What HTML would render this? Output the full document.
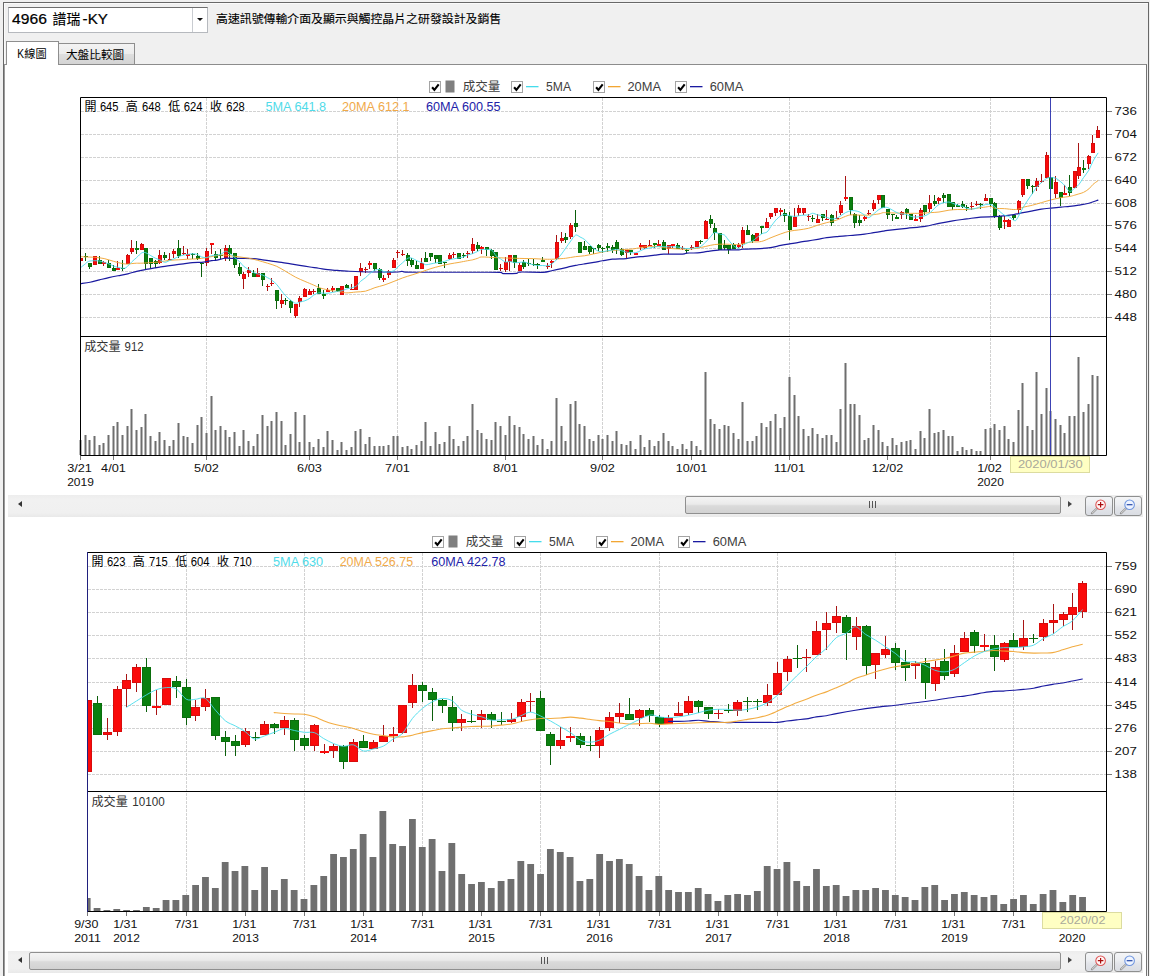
<!DOCTYPE html>
<html><head><meta charset="utf-8"><title>4966 K線圖</title>
<style>
html,body{margin:0;padding:0}
body{width:1150px;height:976px;overflow:hidden;position:relative;background:#f0f0f0;font-family:"Liberation Sans",sans-serif}
div{position:absolute;box-sizing:border-box}
#frame{left:3px;top:2px;width:1146px;height:990px;border:1px solid #686868;border-bottom:none;box-shadow:inset 1px 1px 0 #fafafa}
#combo{left:8px;top:7px;width:200px;height:26px;background:#fff;border:1px solid #b6b9be;border-top-color:#6e6e6e}
#combo b{position:absolute;left:183px;top:0;width:1px;height:24px;background:#c9ccd1}
#combo i{position:absolute;left:188px;top:10px;border:3.4px solid transparent;border-top:3.6px solid #111;border-bottom:none}
#panel{left:4px;top:64px;width:1143px;height:930px;background:#fff;border:1px solid #8c8c8c;border-left-color:#9b9b9b;border-right-color:#747474}
#tab1{left:6px;top:41px;width:53px;height:24px;background:#fff;border:1px solid #8e8e8e;border-bottom:none}
#tab2{left:58px;top:43px;width:77px;height:21px;border:1px solid #8e8e8e;border-bottom:none;background:linear-gradient(#f3f3f3 0%,#ececec 48%,#dedede 52%,#d4d4d4 100%)}
.sb{left:8px;width:1135px;height:22px;background:linear-gradient(#ededed,#f1f1f1 20%,#f0f0f0 80%,#e9e9e9)}
.thumb{top:1px;height:18px;border:1px solid #8f8f8f;border-radius:2px;background:linear-gradient(#f4f4f4 0%,#eaeaea 45%,#dadada 55%,#d2d2d2 100%)}
.thumb i{position:absolute;left:50%;top:4px;margin-left:-4px;width:7px;height:7px;background:linear-gradient(90deg,#555 0 1px,transparent 1px 3px,#555 3px 4px,transparent 4px 6px,#555 6px 7px)}
.arr{width:0;height:0;border-style:solid}
.zb{width:28px;height:20px;border:1px solid #8e8f8f;border-radius:3px;background:linear-gradient(#f4f5f7 0%,#eceef1 40%,#e2e4e9 60%,#dadde3 100%)}
</style></head><body>
<div id="frame"></div>
<div id="combo"><b></b><i></i></div>
<div id="panel"></div>
<div id="tab2"></div>
<div id="tab1"></div>
<div class="sb" style="top:495px"><div class="arr" style="left:10px;top:6px;border-width:3.5px 4.5px 3.5px 0;border-color:transparent #333 transparent transparent"></div><div class="thumb" style="left:677px;width:376px"><i></i></div><div class="arr" style="left:1060px;top:6px;border-width:3.5px 0 3.5px 4.5px;border-color:transparent transparent transparent #444"></div></div><div class="sb" style="top:951px"><div class="arr" style="left:10px;top:6px;border-width:3.5px 4.5px 3.5px 0;border-color:transparent #333 transparent transparent"></div><div class="thumb" style="left:21px;width:1032px"><i></i></div><div class="arr" style="left:1060px;top:6px;border-width:3.5px 0 3.5px 4.5px;border-color:transparent transparent transparent #444"></div></div><div class="zb" style="left:1085px;top:496px"><svg width="28" height="19" viewBox="0 0 28 19" style="position:absolute;left:-1px;top:-1px"><path d="M11.9 12.5L7.0 17.3" stroke="#929292" stroke-width="2.2" stroke-linecap="round"/><path d="M11.7 12.7L7.3 17.0" stroke="#ececec" stroke-width="0.9" stroke-linecap="round"/><circle cx="15.6" cy="8.7" r="4.8" fill="#fff4f4" stroke="#dd5555" stroke-width="1.05"/><path d="M15.6 5.9v5.6M12.8 8.7h5.6" stroke="#a80c0c" stroke-width="1.2" fill="none"/></svg></div><div class="zb" style="left:1114px;top:496px"><svg width="28" height="19" viewBox="0 0 28 19" style="position:absolute;left:-1px;top:-1px"><path d="M11.9 12.5L7.0 17.3" stroke="#929292" stroke-width="2.2" stroke-linecap="round"/><path d="M11.7 12.7L7.3 17.0" stroke="#ececec" stroke-width="0.9" stroke-linecap="round"/><circle cx="15.6" cy="8.7" r="4.8" fill="#eef4ff" stroke="#6f95de" stroke-width="1.05"/><path d="M12.7 8.7h5.8" stroke="#2448a8" stroke-width="1.2" fill="none"/></svg></div><div class="zb" style="left:1085px;top:952px"><svg width="28" height="19" viewBox="0 0 28 19" style="position:absolute;left:-1px;top:-1px"><path d="M11.9 12.5L7.0 17.3" stroke="#929292" stroke-width="2.2" stroke-linecap="round"/><path d="M11.7 12.7L7.3 17.0" stroke="#ececec" stroke-width="0.9" stroke-linecap="round"/><circle cx="15.6" cy="8.7" r="4.8" fill="#fff4f4" stroke="#dd5555" stroke-width="1.05"/><path d="M15.6 5.9v5.6M12.8 8.7h5.6" stroke="#a80c0c" stroke-width="1.2" fill="none"/></svg></div><div class="zb" style="left:1114px;top:952px"><svg width="28" height="19" viewBox="0 0 28 19" style="position:absolute;left:-1px;top:-1px"><path d="M11.9 12.5L7.0 17.3" stroke="#929292" stroke-width="2.2" stroke-linecap="round"/><path d="M11.7 12.7L7.3 17.0" stroke="#ececec" stroke-width="0.9" stroke-linecap="round"/><circle cx="15.6" cy="8.7" r="4.8" fill="#eef4ff" stroke="#6f95de" stroke-width="1.05"/><path d="M12.7 8.7h5.8" stroke="#2448a8" stroke-width="1.2" fill="none"/></svg></div>
<svg width="1150" height="976" viewBox="0 0 1150 976" style="position:absolute;left:0;top:0" font-family='"Liberation Sans", "Noto Sans CJK TC", sans-serif'>
<rect x="80" y="97" width="1026" height="358" fill="#fff"/>
<path stroke="#d2d2d2" stroke-width="1" stroke-dasharray="3 1" fill="none" d="M81 111.5H1106M81 134.5H1106M81 157.5H1106M81 180.5H1106M81 203.5H1106M81 225.5H1106M81 248.5H1106M81 271.5H1106M81 294.5H1106M81 317.5H1106"/>
<path stroke="#d2d2d2" stroke-width="1" stroke-dasharray="3 1" fill="none" d="M206.5 98V455M397.5 98V455M602.5 98V455M789.5 98V455M990.5 98V455"/>
<path fill="#6e6e6e" d="M79.5 440h2V455h-2zM84.5 435h2V455h-2zM88.5 440h2V455h-2zM93.5 436h2V455h-2zM98.5 445h2V455h-2zM102.5 443h2V455h-2zM107.5 435h2V455h-2zM112.5 426h2V455h-2zM116.5 422h2V455h-2zM121.5 435h2V455h-2zM126.5 426h2V455h-2zM130.5 409h2V455h-2zM135.5 430h2V455h-2zM140.5 427h2V455h-2zM144.5 414h2V455h-2zM149.5 436h2V455h-2zM154.5 441h2V455h-2zM158.5 432h2V455h-2zM163.5 440h2V455h-2zM168.5 446h2V455h-2zM172.5 440h2V455h-2zM177.5 423h2V455h-2zM182.5 436h2V455h-2zM186.5 437h2V455h-2zM191.5 443h2V455h-2zM196.5 425h2V455h-2zM200.5 417h2V455h-2zM205.5 433h2V455h-2zM210.5 396h2V455h-2zM214.5 430h2V455h-2zM219.5 426h2V455h-2zM224.5 430h2V455h-2zM228.5 437h2V455h-2zM233.5 432h2V455h-2zM238.5 446h2V455h-2zM242.5 430h2V455h-2zM247.5 441h2V455h-2zM252.5 446h2V455h-2zM256.5 434h2V455h-2zM261.5 415h2V455h-2zM266.5 426h2V455h-2zM270.5 421h2V455h-2zM275.5 412h2V455h-2zM280.5 421h2V455h-2zM284.5 445h2V455h-2zM289.5 434h2V455h-2zM294.5 412h2V455h-2zM298.5 442h2V455h-2zM303.5 415h2V455h-2zM308.5 442h2V455h-2zM312.5 447h2V455h-2zM317.5 439h2V455h-2zM322.5 447h2V455h-2zM326.5 431h2V455h-2zM331.5 440h2V455h-2zM336.5 450h2V455h-2zM340.5 442h2V455h-2zM345.5 450h2V455h-2zM350.5 447h2V455h-2zM354.5 431h2V455h-2zM359.5 429h2V455h-2zM364.5 444h2V455h-2zM368.5 437h2V455h-2zM373.5 446h2V455h-2zM378.5 446h2V455h-2zM382.5 446h2V455h-2zM387.5 445h2V455h-2zM392.5 436h2V455h-2zM396.5 436h2V455h-2zM401.5 447h2V455h-2zM406.5 446h2V455h-2zM410.5 449h2V455h-2zM415.5 445h2V455h-2zM420.5 441h2V455h-2zM424.5 422h2V455h-2zM429.5 446h2V455h-2zM434.5 432h2V455h-2zM438.5 444h2V455h-2zM443.5 442h2V455h-2zM448.5 426h2V455h-2zM452.5 439h2V455h-2zM457.5 446h2V455h-2zM462.5 441h2V455h-2zM466.5 436h2V455h-2zM471.5 404h2V455h-2zM476.5 430h2V455h-2zM480.5 433h2V455h-2zM485.5 439h2V455h-2zM490.5 440h2V455h-2zM494.5 422h2V455h-2zM499.5 426h2V455h-2zM504.5 435h2V455h-2zM508.5 416h2V455h-2zM513.5 425h2V455h-2zM518.5 427h2V455h-2zM522.5 434h2V455h-2zM527.5 439h2V455h-2zM532.5 436h2V455h-2zM536.5 445h2V455h-2zM541.5 439h2V455h-2zM546.5 449h2V455h-2zM550.5 441h2V455h-2zM555.5 398h2V455h-2zM560.5 426h2V455h-2zM564.5 441h2V455h-2zM569.5 404h2V455h-2zM574.5 401h2V455h-2zM578.5 424h2V455h-2zM583.5 426h2V455h-2zM588.5 439h2V455h-2zM592.5 441h2V455h-2zM597.5 435h2V455h-2zM601.5 439h2V455h-2zM606.5 435h2V455h-2zM611.5 441h2V455h-2zM615.5 431h2V455h-2zM620.5 444h2V455h-2zM625.5 445h2V455h-2zM629.5 441h2V455h-2zM634.5 449h2V455h-2zM639.5 435h2V455h-2zM643.5 447h2V455h-2zM648.5 440h2V455h-2zM653.5 446h2V455h-2zM657.5 441h2V455h-2zM662.5 433h2V455h-2zM667.5 441h2V455h-2zM671.5 446h2V455h-2zM676.5 449h2V455h-2zM681.5 444h2V455h-2zM685.5 449h2V455h-2zM690.5 441h2V455h-2zM695.5 446h2V455h-2zM699.5 450h2V455h-2zM704.5 372h2V455h-2zM709.5 419h2V455h-2zM713.5 424h2V455h-2zM718.5 429h2V455h-2zM723.5 425h2V455h-2zM727.5 426h2V455h-2zM732.5 433h2V455h-2zM737.5 439h2V455h-2zM741.5 402h2V455h-2zM746.5 441h2V455h-2zM751.5 441h2V455h-2zM755.5 436h2V455h-2zM760.5 423h2V455h-2zM765.5 427h2V455h-2zM769.5 421h2V455h-2zM774.5 414h2V455h-2zM779.5 428h2V455h-2zM783.5 417h2V455h-2zM788.5 377h2V455h-2zM793.5 395h2V455h-2zM797.5 416h2V455h-2zM802.5 429h2V455h-2zM807.5 436h2V455h-2zM811.5 428h2V455h-2zM816.5 434h2V455h-2zM821.5 438h2V455h-2zM825.5 435h2V455h-2zM830.5 435h2V455h-2zM835.5 442h2V455h-2zM839.5 409h2V455h-2zM844.5 363h2V455h-2zM849.5 404h2V455h-2zM853.5 404h2V455h-2zM858.5 415h2V455h-2zM863.5 440h2V455h-2zM867.5 438h2V455h-2zM872.5 425h2V455h-2zM877.5 430h2V455h-2zM881.5 442h2V455h-2zM886.5 446h2V455h-2zM891.5 438h2V455h-2zM895.5 445h2V455h-2zM900.5 442h2V455h-2zM905.5 441h2V455h-2zM909.5 440h2V455h-2zM914.5 449h2V455h-2zM919.5 431h2V455h-2zM923.5 438h2V455h-2zM928.5 409h2V455h-2zM933.5 433h2V455h-2zM937.5 432h2V455h-2zM942.5 430h2V455h-2zM947.5 436h2V455h-2zM951.5 436h2V455h-2zM956.5 451h2V455h-2zM961.5 447h2V455h-2zM965.5 450h2V455h-2zM970.5 449h2V455h-2zM975.5 451h2V455h-2zM979.5 451h2V455h-2zM984.5 429h2V455h-2zM989.5 428h2V455h-2zM993.5 424h2V455h-2zM998.5 430h2V455h-2zM1003.5 426h2V455h-2zM1007.5 439h2V455h-2zM1012.5 442h2V455h-2zM1017.5 410h2V455h-2zM1021.5 383h2V455h-2zM1026.5 426h2V455h-2zM1031.5 430h2V455h-2zM1035.5 372h2V455h-2zM1040.5 414h2V455h-2zM1045.5 388h2V455h-2zM1049.5 411h2V455h-2zM1054.5 419h2V455h-2zM1059.5 425h2V455h-2zM1063.5 433h2V455h-2zM1068.5 416h2V455h-2zM1073.5 416h2V455h-2zM1077.5 357h2V455h-2zM1082.5 412h2V455h-2zM1087.5 404h2V455h-2zM1091.5 375h2V455h-2zM1096.5 376h2V455h-2z"/>
<clipPath id="c1"><rect x="80" y="97" width="1026" height="358"/></clipPath>
<g clip-path="url(#c1)">
<path fill="#a81414" d="M80 256h1V266h-1z"/><rect x="79.5" y="258.5" width="3" height="2" fill="#fa0a0a" stroke="#d80c0c" stroke-width="1"/>
<path fill="#0b5f0b" d="M85 253h1V261h-1z"/><rect x="84" y="256" width="4" height="1" fill="#0a6e0c"/>
<path fill="#0b5f0b" d="M89 263h1V269h-1z"/><rect x="88.5" y="263.5" width="3" height="3" fill="#0a800f" stroke="#0a6e0c" stroke-width="1"/>
<path fill="#a81414" d="M94 256h1V265h-1z"/><rect x="93.5" y="256.5" width="3" height="8" fill="#fa0a0a" stroke="#d80c0c" stroke-width="1"/>
<path fill="#0b5f0b" d="M99 256h1V264h-1z"/><rect x="98.5" y="260.5" width="3" height="3" fill="#0a800f" stroke="#0a6e0c" stroke-width="1"/>
<path fill="#a81414" d="M103 261h1V266h-1z"/><rect x="102" y="262" width="4" height="2" fill="#fa0a0a"/>
<path fill="#0b5f0b" d="M108 260h1V268h-1z"/><rect x="107.5" y="263.5" width="3" height="4" fill="#0a800f" stroke="#0a6e0c" stroke-width="1"/>
<path fill="#0b5f0b" d="M113 265h1V271h-1z"/><rect x="112.5" y="268.5" width="3" height="2" fill="#0a800f" stroke="#0a6e0c" stroke-width="1"/>
<path fill="#a81414" d="M117 261h1V270h-1z"/><rect x="116" y="268" width="4" height="2" fill="#fa0a0a"/>
<path fill="#0b5f0b" d="M122 260h1V271h-1z"/><rect x="121" y="268" width="4" height="1" fill="#0a6e0c"/>
<path fill="#a81414" d="M127 254h1V264h-1z"/><rect x="126.5" y="255.5" width="3" height="8" fill="#fa0a0a" stroke="#d80c0c" stroke-width="1"/>
<path fill="#a81414" d="M131 240h1V254h-1z"/><rect x="130.5" y="248.5" width="3" height="3" fill="#fa0a0a" stroke="#d80c0c" stroke-width="1"/>
<path fill="#0b5f0b" d="M136 241h1V254h-1z"/><rect x="135" y="248" width="4" height="2" fill="#0a800f"/>
<path fill="#a81414" d="M141 243h1V250h-1z"/><rect x="140.5" y="244.5" width="3" height="5" fill="#fa0a0a" stroke="#d80c0c" stroke-width="1"/>
<path fill="#0b5f0b" d="M145 248h1V269h-1z"/><rect x="144.5" y="248.5" width="3" height="15" fill="#0a800f" stroke="#0a6e0c" stroke-width="1"/>
<path fill="#0b5f0b" d="M150 258h1V268h-1z"/><rect x="149.5" y="258.5" width="3" height="5" fill="#0a800f" stroke="#0a6e0c" stroke-width="1"/>
<path fill="#0b5f0b" d="M155 260h1V268h-1z"/><rect x="154.5" y="261.5" width="3" height="2" fill="#0a800f" stroke="#0a6e0c" stroke-width="1"/>
<path fill="#a81414" d="M159 250h1V264h-1z"/><rect x="158.5" y="255.5" width="3" height="7" fill="#fa0a0a" stroke="#d80c0c" stroke-width="1"/>
<path fill="#0b5f0b" d="M164 252h1V260h-1z"/><rect x="163.5" y="255.5" width="3" height="2" fill="#0a800f" stroke="#0a6e0c" stroke-width="1"/>
<path fill="#a81414" d="M169 253h1V260h-1z"/><rect x="168" y="259" width="4" height="1" fill="#d80c0c"/>
<path fill="#a81414" d="M173 249h1V258h-1z"/><rect x="172.5" y="251.5" width="3" height="2" fill="#fa0a0a" stroke="#d80c0c" stroke-width="1"/>
<path fill="#0b5f0b" d="M178 240h1V258h-1z"/><rect x="177.5" y="248.5" width="3" height="7" fill="#0a800f" stroke="#0a6e0c" stroke-width="1"/>
<path fill="#a81414" d="M183 246h1V255h-1z"/><rect x="182" y="253" width="4" height="1" fill="#d80c0c"/>
<path fill="#a81414" d="M187 249h1V259h-1z"/><rect x="186" y="254" width="4" height="2" fill="#fa0a0a"/>
<path fill="#0b5f0b" d="M192 253h1V259h-1z"/><rect x="191" y="254" width="4" height="1" fill="#0a6e0c"/>
<path fill="#0b5f0b" d="M197 253h1V260h-1z"/><rect x="196.5" y="256.5" width="3" height="2" fill="#0a800f" stroke="#0a6e0c" stroke-width="1"/>
<path fill="#0b5f0b" d="M201 263h1V277h-1z"/><rect x="200" y="263" width="4" height="1" fill="#0a6e0c"/>
<path fill="#a81414" d="M206 248h1V266h-1z"/><rect x="205.5" y="251.5" width="3" height="11" fill="#fa0a0a" stroke="#d80c0c" stroke-width="1"/>
<path fill="#a81414" d="M211 243h1V254h-1z"/><rect x="210" y="243" width="4" height="2" fill="#fa0a0a"/>
<path fill="#0b5f0b" d="M215 251h1V260h-1z"/><rect x="214.5" y="254.5" width="3" height="3" fill="#0a800f" stroke="#0a6e0c" stroke-width="1"/>
<path fill="#0b5f0b" d="M220 249h1V259h-1z"/><rect x="219" y="255" width="4" height="1" fill="#0a6e0c"/>
<path fill="#a81414" d="M225 245h1V261h-1z"/><rect x="224.5" y="248.5" width="3" height="9" fill="#fa0a0a" stroke="#d80c0c" stroke-width="1"/>
<path fill="#0b5f0b" d="M229 245h1V261h-1z"/><rect x="228.5" y="248.5" width="3" height="5" fill="#0a800f" stroke="#0a6e0c" stroke-width="1"/>
<path fill="#0b5f0b" d="M234 253h1V268h-1z"/><rect x="233.5" y="253.5" width="3" height="11" fill="#0a800f" stroke="#0a6e0c" stroke-width="1"/>
<path fill="#0b5f0b" d="M239 263h1V276h-1z"/><rect x="238.5" y="267.5" width="3" height="6" fill="#0a800f" stroke="#0a6e0c" stroke-width="1"/>
<path fill="#a81414" d="M243 272h1V289h-1z"/><rect x="242.5" y="274.5" width="3" height="4" fill="#fa0a0a" stroke="#d80c0c" stroke-width="1"/>
<path fill="#a81414" d="M248 267h1V277h-1z"/><rect x="247.5" y="270.5" width="3" height="2" fill="#fa0a0a" stroke="#d80c0c" stroke-width="1"/>
<path fill="#0b5f0b" d="M253 270h1V277h-1z"/><rect x="252.5" y="273.5" width="3" height="3" fill="#0a800f" stroke="#0a6e0c" stroke-width="1"/>
<path fill="#a81414" d="M257 268h1V277h-1z"/><rect x="256.5" y="273.5" width="3" height="3" fill="#fa0a0a" stroke="#d80c0c" stroke-width="1"/>
<path fill="#0b5f0b" d="M262 273h1V286h-1z"/><rect x="261.5" y="273.5" width="3" height="6" fill="#0a800f" stroke="#0a6e0c" stroke-width="1"/>
<path fill="#a81414" d="M267 284h1V291h-1z"/><rect x="266" y="286" width="4" height="1" fill="#d80c0c"/>
<path fill="#a81414" d="M271 278h1V286h-1z"/><rect x="270" y="283" width="4" height="1" fill="#d80c0c"/>
<path fill="#0b5f0b" d="M276 290h1V309h-1z"/><rect x="275.5" y="290.5" width="3" height="10" fill="#0a800f" stroke="#0a6e0c" stroke-width="1"/>
<path fill="#a81414" d="M281 294h1V308h-1z"/><rect x="280.5" y="300.5" width="3" height="3" fill="#fa0a0a" stroke="#d80c0c" stroke-width="1"/>
<path fill="#0b5f0b" d="M285 298h1V305h-1z"/><rect x="284" y="300" width="4" height="1" fill="#0a6e0c"/>
<path fill="#0b5f0b" d="M290 300h1V313h-1z"/><rect x="289.5" y="301.5" width="3" height="6" fill="#0a800f" stroke="#0a6e0c" stroke-width="1"/>
<path fill="#a81414" d="M295 304h1V318h-1z"/><rect x="294.5" y="304.5" width="3" height="11" fill="#fa0a0a" stroke="#d80c0c" stroke-width="1"/>
<path fill="#a81414" d="M299 296h1V307h-1z"/><rect x="298.5" y="298.5" width="3" height="3" fill="#fa0a0a" stroke="#d80c0c" stroke-width="1"/>
<path fill="#a81414" d="M304 288h1V297h-1z"/><rect x="303.5" y="289.5" width="3" height="7" fill="#fa0a0a" stroke="#d80c0c" stroke-width="1"/>
<path fill="#a81414" d="M309 289h1V295h-1z"/><rect x="308.5" y="291.5" width="3" height="3" fill="#fa0a0a" stroke="#d80c0c" stroke-width="1"/>
<path fill="#a81414" d="M313 289h1V294h-1z"/><rect x="312" y="291" width="4" height="1" fill="#d80c0c"/>
<path fill="#0b5f0b" d="M318 284h1V294h-1z"/><rect x="317.5" y="288.5" width="3" height="5" fill="#0a800f" stroke="#0a6e0c" stroke-width="1"/>
<path fill="#0b5f0b" d="M323 290h1V299h-1z"/><rect x="322" y="294" width="4" height="2" fill="#0a800f"/>
<path fill="#a81414" d="M327 288h1V292h-1z"/><rect x="326" y="290" width="4" height="2" fill="#fa0a0a"/>
<path fill="#a81414" d="M332 286h1V292h-1z"/><rect x="331" y="288" width="4" height="2" fill="#fa0a0a"/>
<path fill="#0b5f0b" d="M337 288h1V292h-1z"/><rect x="336.5" y="288.5" width="3" height="2" fill="#0a800f" stroke="#0a6e0c" stroke-width="1"/>
<path fill="#a81414" d="M341 286h1V295h-1z"/><rect x="340.5" y="286.5" width="3" height="8" fill="#fa0a0a" stroke="#d80c0c" stroke-width="1"/>
<path fill="#0b5f0b" d="M346 284h1V288h-1z"/><rect x="345.5" y="285.5" width="3" height="2" fill="#0a800f" stroke="#0a6e0c" stroke-width="1"/>
<path fill="#a81414" d="M351 284h1V290h-1z"/><rect x="350" y="289" width="4" height="1" fill="#d80c0c"/>
<path fill="#a81414" d="M355 276h1V290h-1z"/><rect x="354.5" y="276.5" width="3" height="13" fill="#fa0a0a" stroke="#d80c0c" stroke-width="1"/>
<path fill="#a81414" d="M360 263h1V276h-1z"/><rect x="359.5" y="268.5" width="3" height="3" fill="#fa0a0a" stroke="#d80c0c" stroke-width="1"/>
<path fill="#a81414" d="M365 267h1V273h-1z"/><rect x="364" y="269" width="4" height="1" fill="#d80c0c"/>
<path fill="#a81414" d="M369 261h1V269h-1z"/><rect x="368" y="263" width="4" height="2" fill="#fa0a0a"/>
<path fill="#0b5f0b" d="M374 263h1V271h-1z"/><rect x="373.5" y="263.5" width="3" height="5" fill="#0a800f" stroke="#0a6e0c" stroke-width="1"/>
<path fill="#0b5f0b" d="M379 268h1V280h-1z"/><rect x="378.5" y="269.5" width="3" height="8" fill="#0a800f" stroke="#0a6e0c" stroke-width="1"/>
<path fill="#a81414" d="M383 275h1V282h-1z"/><rect x="382" y="278" width="4" height="2" fill="#fa0a0a"/>
<path fill="#a81414" d="M388 270h1V278h-1z"/><rect x="387.5" y="271.5" width="3" height="3" fill="#fa0a0a" stroke="#d80c0c" stroke-width="1"/>
<path fill="#a81414" d="M393 258h1V268h-1z"/><rect x="392.5" y="260.5" width="3" height="7" fill="#fa0a0a" stroke="#d80c0c" stroke-width="1"/>
<path fill="#a81414" d="M397 250h1V258h-1z"/><rect x="396" y="252" width="4" height="1" fill="#d80c0c"/>
<path fill="#a81414" d="M402 250h1V256h-1z"/><rect x="401" y="254" width="4" height="1" fill="#d80c0c"/>
<path fill="#0b5f0b" d="M407 253h1V266h-1z"/><rect x="406.5" y="255.5" width="3" height="5" fill="#0a800f" stroke="#0a6e0c" stroke-width="1"/>
<path fill="#0b5f0b" d="M411 258h1V267h-1z"/><rect x="410.5" y="260.5" width="3" height="4" fill="#0a800f" stroke="#0a6e0c" stroke-width="1"/>
<path fill="#0b5f0b" d="M416 261h1V269h-1z"/><rect x="415.5" y="265.5" width="3" height="3" fill="#0a800f" stroke="#0a6e0c" stroke-width="1"/>
<path fill="#a81414" d="M421 258h1V269h-1z"/><rect x="420.5" y="263.5" width="3" height="5" fill="#fa0a0a" stroke="#d80c0c" stroke-width="1"/>
<path fill="#0b5f0b" d="M425 252h1V262h-1z"/><rect x="424.5" y="258.5" width="3" height="3" fill="#0a800f" stroke="#0a6e0c" stroke-width="1"/>
<path fill="#0b5f0b" d="M430 253h1V261h-1z"/><rect x="429.5" y="253.5" width="3" height="3" fill="#0a800f" stroke="#0a6e0c" stroke-width="1"/>
<path fill="#0b5f0b" d="M435 255h1V263h-1z"/><rect x="434.5" y="255.5" width="3" height="3" fill="#0a800f" stroke="#0a6e0c" stroke-width="1"/>
<path fill="#0b5f0b" d="M439 255h1V264h-1z"/><rect x="438.5" y="255.5" width="3" height="8" fill="#0a800f" stroke="#0a6e0c" stroke-width="1"/>
<path fill="#0b5f0b" d="M444 262h1V268h-1z"/><rect x="443" y="262" width="4" height="1" fill="#0a6e0c"/>
<path fill="#a81414" d="M449 253h1V260h-1z"/><rect x="448.5" y="255.5" width="3" height="3" fill="#fa0a0a" stroke="#d80c0c" stroke-width="1"/>
<path fill="#a81414" d="M453 252h1V258h-1z"/><rect x="452" y="254" width="4" height="1" fill="#d80c0c"/>
<path fill="#0b5f0b" d="M458 253h1V259h-1z"/><rect x="457.5" y="253.5" width="3" height="5" fill="#0a800f" stroke="#0a6e0c" stroke-width="1"/>
<path fill="#0b5f0b" d="M463 253h1V258h-1z"/><rect x="462" y="255" width="4" height="1" fill="#0a6e0c"/>
<path fill="#a81414" d="M467 251h1V258h-1z"/><rect x="466" y="253" width="4" height="1" fill="#d80c0c"/>
<path fill="#a81414" d="M472 238h1V254h-1z"/><rect x="471.5" y="244.5" width="3" height="6" fill="#fa0a0a" stroke="#d80c0c" stroke-width="1"/>
<path fill="#0b5f0b" d="M477 242h1V251h-1z"/><rect x="476.5" y="245.5" width="3" height="3" fill="#0a800f" stroke="#0a6e0c" stroke-width="1"/>
<path fill="#a81414" d="M481 246h1V254h-1z"/><rect x="480" y="247" width="4" height="2" fill="#fa0a0a"/>
<path fill="#0b5f0b" d="M486 247h1V256h-1z"/><rect x="485.5" y="247.5" width="3" height="2" fill="#0a800f" stroke="#0a6e0c" stroke-width="1"/>
<path fill="#0b5f0b" d="M491 249h1V259h-1z"/><rect x="490.5" y="250.5" width="3" height="5" fill="#0a800f" stroke="#0a6e0c" stroke-width="1"/>
<path fill="#0b5f0b" d="M495 252h1V270h-1z"/><rect x="494.5" y="252.5" width="3" height="17" fill="#0a800f" stroke="#0a6e0c" stroke-width="1"/>
<path fill="#a81414" d="M500 264h1V271h-1z"/><rect x="499" y="268" width="4" height="1" fill="#d80c0c"/>
<path fill="#a81414" d="M505 257h1V272h-1z"/><rect x="504.5" y="262.5" width="3" height="7" fill="#fa0a0a" stroke="#d80c0c" stroke-width="1"/>
<path fill="#a81414" d="M509 255h1V271h-1z"/><rect x="508.5" y="255.5" width="3" height="6" fill="#fa0a0a" stroke="#d80c0c" stroke-width="1"/>
<path fill="#0b5f0b" d="M514 255h1V268h-1z"/><rect x="513.5" y="255.5" width="3" height="7" fill="#0a800f" stroke="#0a6e0c" stroke-width="1"/>
<path fill="#a81414" d="M519 263h1V271h-1z"/><rect x="518.5" y="265.5" width="3" height="5" fill="#fa0a0a" stroke="#d80c0c" stroke-width="1"/>
<path fill="#0b5f0b" d="M523 260h1V269h-1z"/><rect x="522.5" y="262.5" width="3" height="4" fill="#0a800f" stroke="#0a6e0c" stroke-width="1"/>
<path fill="#0b5f0b" d="M528 259h1V266h-1z"/><rect x="527" y="263" width="4" height="1" fill="#0a6e0c"/>
<path fill="#0b5f0b" d="M533 259h1V266h-1z"/><rect x="532" y="264" width="4" height="1" fill="#0a6e0c"/>
<path fill="#0b5f0b" d="M537 263h1V269h-1z"/><rect x="536" y="264" width="4" height="1" fill="#0a6e0c"/>
<path fill="#0b5f0b" d="M542 257h1V262h-1z"/><rect x="541" y="260" width="4" height="2" fill="#0a800f"/>
<path fill="#a81414" d="M547 263h1V269h-1z"/><rect x="546" y="266" width="4" height="1" fill="#d80c0c"/>
<path fill="#a81414" d="M551 260h1V268h-1z"/><rect x="550" y="261" width="4" height="2" fill="#fa0a0a"/>
<path fill="#a81414" d="M556 235h1V260h-1z"/><rect x="555.5" y="242.5" width="3" height="16" fill="#fa0a0a" stroke="#d80c0c" stroke-width="1"/>
<path fill="#a81414" d="M561 232h1V243h-1z"/><rect x="560.5" y="238.5" width="3" height="2" fill="#fa0a0a" stroke="#d80c0c" stroke-width="1"/>
<path fill="#0b5f0b" d="M565 233h1V243h-1z"/><rect x="564.5" y="237.5" width="3" height="2" fill="#0a800f" stroke="#0a6e0c" stroke-width="1"/>
<path fill="#a81414" d="M570 223h1V239h-1z"/><rect x="569.5" y="225.5" width="3" height="11" fill="#fa0a0a" stroke="#d80c0c" stroke-width="1"/>
<path fill="#0b5f0b" d="M575 210h1V232h-1z"/><rect x="574.5" y="223.5" width="3" height="3" fill="#0a800f" stroke="#0a6e0c" stroke-width="1"/>
<path fill="#0b5f0b" d="M579 242h1V253h-1z"/><rect x="578.5" y="242.5" width="3" height="10" fill="#0a800f" stroke="#0a6e0c" stroke-width="1"/>
<path fill="#0b5f0b" d="M584 241h1V250h-1z"/><rect x="583.5" y="246.5" width="3" height="3" fill="#0a800f" stroke="#0a6e0c" stroke-width="1"/>
<path fill="#0b5f0b" d="M589 246h1V254h-1z"/><rect x="588.5" y="246.5" width="3" height="5" fill="#0a800f" stroke="#0a6e0c" stroke-width="1"/>
<path fill="#0b5f0b" d="M593 248h1V254h-1z"/><rect x="592" y="248" width="4" height="1" fill="#0a6e0c"/>
<path fill="#0b5f0b" d="M598 244h1V251h-1z"/><rect x="597.5" y="245.5" width="3" height="2" fill="#0a800f" stroke="#0a6e0c" stroke-width="1"/>
<path fill="#0b5f0b" d="M602 247h1V253h-1z"/><rect x="601" y="248" width="4" height="1" fill="#0a6e0c"/>
<path fill="#0b5f0b" d="M607 243h1V252h-1z"/><rect x="606" y="246" width="4" height="2" fill="#0a800f"/>
<path fill="#0b5f0b" d="M612 245h1V253h-1z"/><rect x="611.5" y="247.5" width="3" height="2" fill="#0a800f" stroke="#0a6e0c" stroke-width="1"/>
<path fill="#0b5f0b" d="M616 240h1V254h-1z"/><rect x="615.5" y="242.5" width="3" height="6" fill="#0a800f" stroke="#0a6e0c" stroke-width="1"/>
<path fill="#0b5f0b" d="M621 248h1V256h-1z"/><rect x="620.5" y="249.5" width="3" height="5" fill="#0a800f" stroke="#0a6e0c" stroke-width="1"/>
<path fill="#a81414" d="M626 250h1V258h-1z"/><rect x="625.5" y="250.5" width="3" height="2" fill="#fa0a0a" stroke="#d80c0c" stroke-width="1"/>
<path fill="#0b5f0b" d="M630 250h1V255h-1z"/><rect x="629" y="250" width="4" height="2" fill="#0a800f"/>
<path fill="#a81414" d="M635 253h1V255h-1z"/><rect x="634" y="253" width="4" height="2" fill="#fa0a0a"/>
<path fill="#a81414" d="M640 243h1V250h-1z"/><rect x="639" y="245" width="4" height="2" fill="#fa0a0a"/>
<path fill="#a81414" d="M644 245h1V249h-1z"/><rect x="643.5" y="245.5" width="3" height="2" fill="#fa0a0a" stroke="#d80c0c" stroke-width="1"/>
<path fill="#a81414" d="M649 240h1V246h-1z"/><rect x="648" y="245" width="4" height="1" fill="#d80c0c"/>
<path fill="#0b5f0b" d="M654 243h1V248h-1z"/><rect x="653" y="243" width="4" height="2" fill="#0a800f"/>
<path fill="#a81414" d="M658 240h1V246h-1z"/><rect x="657" y="244" width="4" height="2" fill="#fa0a0a"/>
<path fill="#0b5f0b" d="M663 240h1V250h-1z"/><rect x="662.5" y="242.5" width="3" height="7" fill="#0a800f" stroke="#0a6e0c" stroke-width="1"/>
<path fill="#a81414" d="M668 245h1V254h-1z"/><rect x="667.5" y="245.5" width="3" height="3" fill="#fa0a0a" stroke="#d80c0c" stroke-width="1"/>
<path fill="#a81414" d="M672 244h1V248h-1z"/><rect x="671" y="244" width="4" height="2" fill="#fa0a0a"/>
<path fill="#0b5f0b" d="M677 243h1V249h-1z"/><rect x="676.5" y="245.5" width="3" height="3" fill="#0a800f" stroke="#0a6e0c" stroke-width="1"/>
<path fill="#a81414" d="M682 246h1V250h-1z"/><rect x="681" y="248" width="4" height="1" fill="#d80c0c"/>
<path fill="#0b5f0b" d="M686 249h1V253h-1z"/><rect x="685" y="250" width="4" height="1" fill="#0a6e0c"/>
<path fill="#a81414" d="M691 245h1V250h-1z"/><rect x="690" y="247" width="4" height="1" fill="#d80c0c"/>
<path fill="#a81414" d="M696 241h1V247h-1z"/><rect x="695.5" y="241.5" width="3" height="5" fill="#fa0a0a" stroke="#d80c0c" stroke-width="1"/>
<path fill="#0b5f0b" d="M700 240h1V244h-1z"/><rect x="699" y="241" width="4" height="1" fill="#0a6e0c"/>
<path fill="#a81414" d="M705 220h1V239h-1z"/><rect x="704.5" y="221.5" width="3" height="17" fill="#fa0a0a" stroke="#d80c0c" stroke-width="1"/>
<path fill="#0b5f0b" d="M710 215h1V228h-1z"/><rect x="709.5" y="219.5" width="3" height="4" fill="#0a800f" stroke="#0a6e0c" stroke-width="1"/>
<path fill="#0b5f0b" d="M714 223h1V240h-1z"/><rect x="713.5" y="228.5" width="3" height="4" fill="#0a800f" stroke="#0a6e0c" stroke-width="1"/>
<path fill="#0b5f0b" d="M719 233h1V250h-1z"/><rect x="718.5" y="233.5" width="3" height="16" fill="#0a800f" stroke="#0a6e0c" stroke-width="1"/>
<path fill="#0b5f0b" d="M724 240h1V250h-1z"/><rect x="723.5" y="245.5" width="3" height="2" fill="#0a800f" stroke="#0a6e0c" stroke-width="1"/>
<path fill="#0b5f0b" d="M728 245h1V254h-1z"/><rect x="727.5" y="245.5" width="3" height="4" fill="#0a800f" stroke="#0a6e0c" stroke-width="1"/>
<path fill="#0b5f0b" d="M733 243h1V249h-1z"/><rect x="732.5" y="245.5" width="3" height="3" fill="#0a800f" stroke="#0a6e0c" stroke-width="1"/>
<path fill="#a81414" d="M738 243h1V248h-1z"/><rect x="737" y="245" width="4" height="2" fill="#fa0a0a"/>
<path fill="#a81414" d="M742 227h1V248h-1z"/><rect x="741.5" y="230.5" width="3" height="13" fill="#fa0a0a" stroke="#d80c0c" stroke-width="1"/>
<path fill="#0b5f0b" d="M747 225h1V235h-1z"/><rect x="746.5" y="230.5" width="3" height="4" fill="#0a800f" stroke="#0a6e0c" stroke-width="1"/>
<path fill="#0b5f0b" d="M752 234h1V243h-1z"/><rect x="751.5" y="235.5" width="3" height="5" fill="#0a800f" stroke="#0a6e0c" stroke-width="1"/>
<path fill="#a81414" d="M756 233h1V241h-1z"/><rect x="755.5" y="233.5" width="3" height="7" fill="#fa0a0a" stroke="#d80c0c" stroke-width="1"/>
<path fill="#0b5f0b" d="M761 226h1V234h-1z"/><rect x="760" y="226" width="4" height="2" fill="#0a800f"/>
<path fill="#a81414" d="M766 218h1V228h-1z"/><rect x="765.5" y="222.5" width="3" height="5" fill="#fa0a0a" stroke="#d80c0c" stroke-width="1"/>
<path fill="#a81414" d="M770 213h1V219h-1z"/><rect x="769.5" y="213.5" width="3" height="3" fill="#fa0a0a" stroke="#d80c0c" stroke-width="1"/>
<path fill="#a81414" d="M775 208h1V216h-1z"/><rect x="774.5" y="208.5" width="3" height="4" fill="#fa0a0a" stroke="#d80c0c" stroke-width="1"/>
<path fill="#a81414" d="M780 208h1V216h-1z"/><rect x="779" y="210" width="4" height="2" fill="#fa0a0a"/>
<path fill="#0b5f0b" d="M784 209h1V222h-1z"/><rect x="783.5" y="213.5" width="3" height="2" fill="#0a800f" stroke="#0a6e0c" stroke-width="1"/>
<path fill="#0b5f0b" d="M789 212h1V240h-1z"/><rect x="788.5" y="216.5" width="3" height="13" fill="#0a800f" stroke="#0a6e0c" stroke-width="1"/>
<path fill="#a81414" d="M794 208h1V227h-1z"/><rect x="793.5" y="217.5" width="3" height="9" fill="#fa0a0a" stroke="#d80c0c" stroke-width="1"/>
<path fill="#a81414" d="M798 205h1V216h-1z"/><rect x="797.5" y="208.5" width="3" height="4" fill="#fa0a0a" stroke="#d80c0c" stroke-width="1"/>
<path fill="#a81414" d="M803 208h1V215h-1z"/><rect x="802.5" y="208.5" width="3" height="4" fill="#fa0a0a" stroke="#d80c0c" stroke-width="1"/>
<path fill="#a81414" d="M808 214h1V221h-1z"/><rect x="807" y="216" width="4" height="1" fill="#d80c0c"/>
<path fill="#0b5f0b" d="M812 215h1V222h-1z"/><rect x="811" y="218" width="4" height="1" fill="#0a6e0c"/>
<path fill="#a81414" d="M817 214h1V223h-1z"/><rect x="816.5" y="219.5" width="3" height="3" fill="#fa0a0a" stroke="#d80c0c" stroke-width="1"/>
<path fill="#0b5f0b" d="M822 214h1V221h-1z"/><rect x="821.5" y="214.5" width="3" height="3" fill="#0a800f" stroke="#0a6e0c" stroke-width="1"/>
<path fill="#a81414" d="M826 210h1V220h-1z"/><rect x="825" y="219" width="4" height="1" fill="#d80c0c"/>
<path fill="#0b5f0b" d="M831 214h1V226h-1z"/><rect x="830.5" y="215.5" width="3" height="7" fill="#0a800f" stroke="#0a6e0c" stroke-width="1"/>
<path fill="#a81414" d="M836 211h1V219h-1z"/><rect x="835" y="218" width="4" height="1" fill="#d80c0c"/>
<path fill="#a81414" d="M840 201h1V215h-1z"/><rect x="839.5" y="205.5" width="3" height="7" fill="#fa0a0a" stroke="#d80c0c" stroke-width="1"/>
<path fill="#a81414" d="M845 176h1V201h-1z"/><rect x="844" y="197" width="4" height="2" fill="#fa0a0a"/>
<path fill="#0b5f0b" d="M850 197h1V215h-1z"/><rect x="849.5" y="197.5" width="3" height="12" fill="#0a800f" stroke="#0a6e0c" stroke-width="1"/>
<path fill="#0b5f0b" d="M854 213h1V228h-1z"/><rect x="853.5" y="214.5" width="3" height="8" fill="#0a800f" stroke="#0a6e0c" stroke-width="1"/>
<path fill="#0b5f0b" d="M859 215h1V226h-1z"/><rect x="858.5" y="220.5" width="3" height="2" fill="#0a800f" stroke="#0a6e0c" stroke-width="1"/>
<path fill="#a81414" d="M864 216h1V221h-1z"/><rect x="863" y="217" width="4" height="2" fill="#fa0a0a"/>
<path fill="#a81414" d="M868 210h1V215h-1z"/><rect x="867" y="213" width="4" height="1" fill="#d80c0c"/>
<path fill="#a81414" d="M873 200h1V211h-1z"/><rect x="872.5" y="203.5" width="3" height="5" fill="#fa0a0a" stroke="#d80c0c" stroke-width="1"/>
<path fill="#a81414" d="M878 195h1V204h-1z"/><rect x="877.5" y="195.5" width="3" height="4" fill="#fa0a0a" stroke="#d80c0c" stroke-width="1"/>
<path fill="#0b5f0b" d="M882 195h1V208h-1z"/><rect x="881.5" y="195.5" width="3" height="12" fill="#0a800f" stroke="#0a6e0c" stroke-width="1"/>
<path fill="#0b5f0b" d="M887 209h1V219h-1z"/><rect x="886.5" y="209.5" width="3" height="5" fill="#0a800f" stroke="#0a6e0c" stroke-width="1"/>
<path fill="#0b5f0b" d="M892 214h1V221h-1z"/><rect x="891" y="214" width="4" height="1" fill="#0a6e0c"/>
<path fill="#0b5f0b" d="M896 215h1V219h-1z"/><rect x="895" y="217" width="4" height="2" fill="#0a800f"/>
<path fill="#a81414" d="M901 211h1V219h-1z"/><rect x="900.5" y="212.5" width="3" height="2" fill="#fa0a0a" stroke="#d80c0c" stroke-width="1"/>
<path fill="#0b5f0b" d="M906 208h1V219h-1z"/><rect x="905.5" y="209.5" width="3" height="3" fill="#0a800f" stroke="#0a6e0c" stroke-width="1"/>
<path fill="#0b5f0b" d="M910 214h1V220h-1z"/><rect x="909.5" y="214.5" width="3" height="5" fill="#0a800f" stroke="#0a6e0c" stroke-width="1"/>
<path fill="#a81414" d="M915 215h1V221h-1z"/><rect x="914" y="219" width="4" height="2" fill="#fa0a0a"/>
<path fill="#a81414" d="M920 208h1V222h-1z"/><rect x="919.5" y="210.5" width="3" height="8" fill="#fa0a0a" stroke="#d80c0c" stroke-width="1"/>
<path fill="#0b5f0b" d="M924 205h1V215h-1z"/><rect x="923.5" y="205.5" width="3" height="6" fill="#0a800f" stroke="#0a6e0c" stroke-width="1"/>
<path fill="#a81414" d="M929 195h1V212h-1z"/><rect x="928.5" y="203.5" width="3" height="5" fill="#fa0a0a" stroke="#d80c0c" stroke-width="1"/>
<path fill="#0b5f0b" d="M934 195h1V206h-1z"/><rect x="933.5" y="201.5" width="3" height="2" fill="#0a800f" stroke="#0a6e0c" stroke-width="1"/>
<path fill="#a81414" d="M938 197h1V204h-1z"/><rect x="937.5" y="198.5" width="3" height="2" fill="#fa0a0a" stroke="#d80c0c" stroke-width="1"/>
<path fill="#0b5f0b" d="M943 193h1V203h-1z"/><rect x="942.5" y="195.5" width="3" height="2" fill="#0a800f" stroke="#0a6e0c" stroke-width="1"/>
<path fill="#0b5f0b" d="M948 194h1V207h-1z"/><rect x="947.5" y="194.5" width="3" height="12" fill="#0a800f" stroke="#0a6e0c" stroke-width="1"/>
<path fill="#0b5f0b" d="M952 202h1V210h-1z"/><rect x="951.5" y="202.5" width="3" height="4" fill="#0a800f" stroke="#0a6e0c" stroke-width="1"/>
<path fill="#0b5f0b" d="M957 204h1V207h-1z"/><rect x="956" y="205" width="4" height="2" fill="#0a800f"/>
<path fill="#0b5f0b" d="M962 201h1V208h-1z"/><rect x="961.5" y="204.5" width="3" height="2" fill="#0a800f" stroke="#0a6e0c" stroke-width="1"/>
<path fill="#0b5f0b" d="M966 205h1V211h-1z"/><rect x="965" y="207" width="4" height="1" fill="#0a6e0c"/>
<path fill="#a81414" d="M971 202h1V210h-1z"/><rect x="970" y="206" width="4" height="1" fill="#d80c0c"/>
<path fill="#a81414" d="M976 201h1V206h-1z"/><rect x="975" y="204" width="4" height="1" fill="#d80c0c"/>
<path fill="#0b5f0b" d="M980 203h1V209h-1z"/><rect x="979" y="204" width="4" height="1" fill="#0a6e0c"/>
<path fill="#a81414" d="M985 194h1V201h-1z"/><rect x="984.5" y="198.5" width="3" height="2" fill="#fa0a0a" stroke="#d80c0c" stroke-width="1"/>
<path fill="#0b5f0b" d="M990 198h1V207h-1z"/><rect x="989.5" y="198.5" width="3" height="5" fill="#0a800f" stroke="#0a6e0c" stroke-width="1"/>
<path fill="#0b5f0b" d="M994 202h1V218h-1z"/><rect x="993.5" y="203.5" width="3" height="12" fill="#0a800f" stroke="#0a6e0c" stroke-width="1"/>
<path fill="#0b5f0b" d="M999 215h1V230h-1z"/><rect x="998.5" y="216.5" width="3" height="11" fill="#0a800f" stroke="#0a6e0c" stroke-width="1"/>
<path fill="#a81414" d="M1004 216h1V229h-1z"/><rect x="1003" y="220" width="4" height="2" fill="#fa0a0a"/>
<path fill="#a81414" d="M1008 219h1V227h-1z"/><rect x="1007.5" y="220.5" width="3" height="6" fill="#fa0a0a" stroke="#d80c0c" stroke-width="1"/>
<path fill="#0b5f0b" d="M1013 215h1V220h-1z"/><rect x="1012.5" y="215.5" width="3" height="2" fill="#0a800f" stroke="#0a6e0c" stroke-width="1"/>
<path fill="#a81414" d="M1018 200h1V213h-1z"/><rect x="1017.5" y="201.5" width="3" height="8" fill="#fa0a0a" stroke="#d80c0c" stroke-width="1"/>
<path fill="#a81414" d="M1022 179h1V197h-1z"/><rect x="1021.5" y="179.5" width="3" height="15" fill="#fa0a0a" stroke="#d80c0c" stroke-width="1"/>
<path fill="#0b5f0b" d="M1027 179h1V189h-1z"/><rect x="1026.5" y="179.5" width="3" height="6" fill="#0a800f" stroke="#0a6e0c" stroke-width="1"/>
<path fill="#0b5f0b" d="M1032 185h1V194h-1z"/><rect x="1031" y="186" width="4" height="1" fill="#0a6e0c"/>
<path fill="#a81414" d="M1036 178h1V191h-1z"/><rect x="1035.5" y="181.5" width="3" height="5" fill="#fa0a0a" stroke="#d80c0c" stroke-width="1"/>
<path fill="#a81414" d="M1041 174h1V183h-1z"/><rect x="1040" y="181" width="4" height="1" fill="#d80c0c"/>
<path fill="#a81414" d="M1046 152h1V178h-1z"/><rect x="1045.5" y="155.5" width="3" height="22" fill="#fa0a0a" stroke="#d80c0c" stroke-width="1"/>
<path fill="#0b5f0b" d="M1050 175h1V192h-1z"/><rect x="1049.5" y="177.5" width="3" height="11" fill="#0a800f" stroke="#0a6e0c" stroke-width="1"/>
<path fill="#a81414" d="M1055 176h1V198h-1z"/><rect x="1054.5" y="182.5" width="3" height="11" fill="#fa0a0a" stroke="#d80c0c" stroke-width="1"/>
<path fill="#0b5f0b" d="M1060 192h1V206h-1z"/><rect x="1059.5" y="192.5" width="3" height="5" fill="#0a800f" stroke="#0a6e0c" stroke-width="1"/>
<path fill="#a81414" d="M1064 185h1V195h-1z"/><rect x="1063" y="193" width="4" height="2" fill="#fa0a0a"/>
<path fill="#0b5f0b" d="M1069 175h1V196h-1z"/><rect x="1068.5" y="187.5" width="3" height="5" fill="#0a800f" stroke="#0a6e0c" stroke-width="1"/>
<path fill="#a81414" d="M1074 171h1V188h-1z"/><rect x="1073.5" y="171.5" width="3" height="16" fill="#fa0a0a" stroke="#d80c0c" stroke-width="1"/>
<path fill="#a81414" d="M1078 143h1V179h-1z"/><rect x="1077.5" y="167.5" width="3" height="8" fill="#fa0a0a" stroke="#d80c0c" stroke-width="1"/>
<path fill="#0b5f0b" d="M1083 160h1V173h-1z"/><rect x="1082" y="168" width="4" height="2" fill="#0a800f"/>
<path fill="#a81414" d="M1088 155h1V169h-1z"/><rect x="1087.5" y="156.5" width="3" height="7" fill="#fa0a0a" stroke="#d80c0c" stroke-width="1"/>
<path fill="#a81414" d="M1092 135h1V153h-1z"/><rect x="1091.5" y="143.5" width="3" height="9" fill="#fa0a0a" stroke="#d80c0c" stroke-width="1"/>
<path fill="#a81414" d="M1097 126h1V138h-1z"/><rect x="1096.5" y="130.5" width="3" height="7" fill="#fa0a0a" stroke="#d80c0c" stroke-width="1"/>
<path fill="none" stroke="#1a1aa0" stroke-width="1.2" stroke-linejoin="round" stroke-linecap="round" d="M80.63 283.61C82.14 283.39 87 282.83 90.02 282.23C93.05 281.63 96.54 280.6 99.54 279.85C102.55 279.11 105.86 278.26 108.81 277.6C111.75 276.94 114.9 276.32 117.95 275.72C120.99 275.12 124.85 274.54 127.84 273.84C130.83 273.14 133.72 272.04 136.61 271.34C139.49 270.64 142.87 270.02 145.87 269.46C148.88 268.9 152.36 268.33 155.39 267.83C158.41 267.33 161.81 266.77 164.78 266.33C167.74 265.89 170.93 265.48 173.92 265.08C176.91 264.68 180.47 264.23 183.44 263.83C186.4 263.43 189.55 262.81 192.45 262.57C195.36 262.33 199.33 262.48 201.59 262.32C203.86 262.16 205 261.83 206.6 261.57C208.2 261.31 209.95 260.93 211.61 260.7C213.28 260.46 214.78 260.48 217.01 260.08C219.23 259.68 222.68 258.46 225.52 258.2C228.37 257.94 231.88 258.43 234.79 258.45C237.69 258.47 240.67 258.31 243.68 258.33C246.69 258.35 250.53 258.34 253.57 258.58C256.62 258.82 259.81 259.43 262.71 259.83C265.62 260.23 268.72 260.68 271.73 261.08C274.73 261.48 278.47 261.89 281.5 262.33C284.52 262.77 287.73 263.35 290.64 263.83C293.54 264.32 296.57 264.84 299.65 265.34C302.74 265.84 306.87 266.5 309.92 266.97C312.97 267.43 315.82 267.78 318.69 268.22C321.55 268.66 324.8 269.36 327.83 269.72C330.85 270.08 334.55 270.25 337.59 270.47C340.64 270.69 343.19 270.89 346.86 271.1C350.53 271.3 355.23 271.61 360.52 271.75C365.81 271.89 373.92 271.96 379.93 272C385.94 272.04 394.58 272.1 398.09 272C401.59 271.9 400.64 271.35 401.84 271.37C403.05 271.39 402.19 271.98 405.6 272.13C409.01 272.27 416.32 272.23 423.13 272.25C429.94 272.27 440.16 272.25 448.17 272.25C456.19 272.25 467.61 272.25 473.22 272.25C478.83 272.25 478.91 272.22 483.23 272.25C487.56 272.28 497.05 272.2 500.28 272.41C503.51 272.62 500.8 273.4 503.41 273.54C506.01 273.68 513.85 273.53 516.56 273.29C519.26 273.05 516.11 272.2 520.31 272.03C524.52 271.87 537.84 272.49 542.85 272.29C547.86 272.08 548.61 271.36 551.62 270.78C554.62 270.2 558.57 269.36 561.63 268.65C564.7 267.95 568.53 266.92 570.78 266.4C573.02 265.88 573.46 265.8 575.66 265.4C577.86 265 581.64 264.38 584.55 263.9C587.45 263.41 590.93 262.89 593.82 262.39C596.7 261.89 599.62 261.29 602.58 260.77C605.55 260.24 608.56 259.49 612.35 259.14C616.14 258.78 622.49 258.88 626.26 258.55C630.03 258.21 632.94 257.38 635.9 257.04C638.87 256.7 641.77 256.72 644.79 256.42C647.82 256.12 651.77 255.53 654.81 255.17C657.86 254.8 659.38 254.32 663.83 254.16C668.27 254 678.9 254.34 682.61 254.16C686.32 253.98 684.59 253.24 686.99 253.04C689.4 252.84 694.33 253.17 697.63 252.91C700.94 252.65 704.09 251.89 707.65 251.41C711.22 250.93 716.52 250.15 719.92 249.91C723.33 249.67 725.89 249.93 728.94 249.91C731.98 249.89 736.71 249.9 738.96 249.78C741.2 249.66 740.76 249.3 742.96 249.15C745.17 249.01 748.64 249.1 752.73 248.9C756.82 248.71 764.03 248.49 768.52 247.94C773.01 247.38 777.43 246.07 780.79 245.43C784.16 244.79 786.67 244.43 789.56 243.93C792.44 243.43 795.78 242.8 798.82 242.3C801.87 241.8 805.57 241.28 808.59 240.8C811.62 240.32 814.83 239.8 817.73 239.3C820.64 238.8 823.74 238.09 826.75 237.67C829.75 237.25 833.51 236.97 836.51 236.67C839.52 236.37 842.59 236.03 845.53 235.79C848.48 235.55 851.86 235.43 854.92 235.17C857.99 234.9 861.68 234.56 864.69 234.16C867.69 233.76 870.76 233.14 873.7 232.66C876.65 232.18 880.85 231.52 883.1 231.16C885.34 230.8 883.94 230.86 887.73 230.41C891.52 229.95 900.82 228.95 906.78 228.31C912.73 227.68 919.78 227.24 924.93 226.43C930.08 225.63 934.51 224.21 938.96 223.3C943.4 222.4 948.28 221.5 952.73 220.8C957.18 220.1 962.29 219.52 966.75 218.92C971.22 218.32 976.15 217.4 980.65 217.04C985.16 216.68 991.12 216.87 994.93 216.67C998.74 216.47 1001.43 216.13 1004.45 215.79C1007.46 215.45 1010.79 215.05 1013.77 214.56C1016.74 214.06 1020.03 213.28 1023.03 212.68C1026.04 212.08 1029.62 211.36 1032.55 210.8C1035.47 210.24 1038.37 209.61 1041.31 209.17C1044.26 208.73 1047.81 208.39 1050.96 208.05C1054.1 207.7 1057.97 207.3 1060.97 207.04C1063.98 206.78 1066.87 206.72 1069.74 206.42C1072.6 206.12 1075.81 205.67 1078.88 205.17C1081.95 204.66 1085.85 204.09 1088.9 203.29C1091.94 202.49 1096.47 200.66 1097.91 200.16"/>
<g opacity="0.92">
<path fill="none" stroke="#f2a633" stroke-width="1.0" stroke-linejoin="round" stroke-linecap="round" d="M80.63 256.56C81.39 256.62 83.13 256.82 85.39 256.94C87.66 257.06 91.78 257.05 94.78 257.31C97.79 257.58 101.17 257.93 104.17 258.57C107.18 259.21 110.62 260.52 113.57 261.32C116.51 262.12 120.3 263.13 122.58 263.58C124.86 264.02 126.38 264.08 127.84 264.08C129.3 264.08 130.32 263.72 131.72 263.58C133.12 263.44 134.98 263.26 136.61 263.2C138.23 263.14 139.58 263.3 141.86 263.2C144.15 263.1 148.02 262.77 150.88 262.57C153.74 262.37 156.83 262.31 159.77 261.95C162.72 261.59 166.26 260.66 169.29 260.32C172.31 259.98 175.77 260 178.68 259.82C181.58 259.64 184.44 259.35 187.44 259.19C190.45 259.03 194.4 259.08 197.46 258.82C200.53 258.56 202.93 258.16 206.6 257.57C210.27 256.97 216.72 255.37 220.39 255.07C224.06 254.77 226.43 255.4 229.53 255.7C232.64 256 236.75 256.55 239.8 256.95C242.84 257.35 245.7 257.66 248.56 258.2C251.43 258.74 254.68 259.53 257.7 260.33C260.73 261.13 264.43 262.25 267.47 263.21C270.52 264.17 273.83 265.04 276.74 266.34C279.64 267.64 282.6 269.6 285.63 271.35C288.65 273.09 292.56 275.63 295.65 277.23C298.73 278.84 302.03 280.1 304.91 281.37C307.8 282.63 311.47 284.16 313.68 285.12C315.88 286.08 317.12 286.77 318.69 287.38C320.25 287.98 321.22 288.34 323.44 288.88C325.67 289.42 329.64 290.26 332.58 290.76C335.53 291.26 339.57 291.67 341.85 292.01C344.13 292.35 344.61 292.88 346.86 292.89C349.11 292.89 352.9 292.31 355.89 292.03C358.88 291.76 362.49 291.86 365.53 291.16C368.58 290.46 371.98 288.61 374.92 287.65C377.87 286.69 380.89 286.15 383.94 285.15C386.98 284.15 390.95 282.55 393.95 281.39C396.96 280.23 399.81 278.93 402.72 277.89C405.63 276.84 409.05 275.86 412.11 274.88C415.18 273.9 418.87 272.75 421.88 271.75C424.88 270.75 427.99 269.52 430.89 268.62C433.8 267.72 436.97 266.88 440.03 266.11C443.1 265.35 447.01 264.46 450.05 263.86C453.1 263.26 456.26 262.86 459.07 262.36C461.87 261.86 465.42 261.13 467.58 260.73C469.75 260.33 470.95 260.25 472.59 259.85C474.23 259.45 476.39 258.69 477.85 258.23C479.31 257.77 478.84 257.07 481.73 256.97C484.62 256.88 492.09 257.47 495.9 257.63C499.7 257.8 502.53 257.91 505.54 258.01C508.54 258.11 511.71 258.18 514.68 258.26C517.64 258.34 521.06 258.45 524.07 258.51C527.07 258.57 530.5 258.54 533.46 258.64C536.43 258.74 539.7 259.04 542.6 259.14C545.51 259.24 549.33 259.3 551.62 259.26C553.9 259.22 554.63 259.05 556.88 258.89C559.12 258.73 562.64 258.62 565.64 258.26C568.65 257.9 572.63 257.03 575.66 256.63C578.68 256.23 581.64 256.2 584.55 255.76C587.45 255.32 590.93 254.48 593.82 253.88C596.7 253.28 599.62 252.54 602.58 252C605.55 251.46 607.82 250.95 612.35 250.5C616.88 250.04 626.4 249.61 630.89 249.15C635.38 248.7 637.45 248.09 640.41 247.65C643.38 247.21 646.52 246.56 649.43 246.4C652.33 246.24 655.5 246.35 658.57 246.65C661.63 246.95 665.54 247.92 668.58 248.28C671.63 248.64 674.65 248.76 677.6 248.9C680.55 249.04 683.89 249.25 686.99 249.15C690.1 249.05 694 248.72 697.01 248.28C700.01 247.84 702.93 247 705.77 246.4C708.62 245.8 711.78 244.88 714.79 244.52C717.79 244.16 721.53 244.15 724.56 244.15C727.58 244.15 731.49 244.46 733.7 244.52C735.9 244.58 736.85 244.66 738.33 244.52C739.81 244.38 741.46 243.95 742.96 243.65C744.47 243.34 746.16 242.9 747.72 242.64C749.28 242.38 750.5 242.21 752.73 242.02C754.96 241.82 758.71 242.12 761.63 241.43C764.56 240.73 767.96 238.87 771.03 237.67C774.09 236.47 777.83 234.95 780.79 233.91C783.76 232.87 786.67 231.8 789.56 231.16C792.44 230.52 795.78 230.37 798.82 229.91C801.87 229.45 805.57 229.04 808.59 228.28C811.62 227.52 814.83 226.05 817.73 225.15C820.64 224.25 823.74 223.44 826.75 222.64C829.75 221.84 833.51 221.14 836.51 220.14C839.52 219.14 843.23 217.22 845.53 216.38C847.83 215.54 848.65 215.08 850.91 214.88C853.18 214.68 856.84 215.09 859.68 215.13C862.52 215.17 865.61 215.33 868.7 215.13C871.78 214.93 876.66 214.28 878.96 213.88C881.27 213.48 881.69 212.81 883.1 212.63C884.5 212.45 883.94 212.65 887.73 212.75C891.52 212.86 901.48 213.2 906.78 213.29C912.07 213.37 917.15 213.39 920.8 213.29C924.45 213.19 926.66 212.86 929.57 212.66C932.47 212.46 935.85 212.44 938.96 212.03C942.06 211.63 945.97 210.56 948.97 210.16C951.98 209.76 954.89 209.63 957.74 209.53C960.58 209.43 963.75 209.73 966.75 209.53C969.76 209.33 973.5 208.68 976.52 208.28C979.55 207.88 983.36 207.33 985.66 207.03C987.97 206.73 989.44 206.2 990.92 206.4C992.4 206.6 992.76 207.92 994.93 208.28C997.09 208.64 1001.43 208.45 1004.45 208.65C1007.46 208.86 1011.43 209.5 1013.77 209.55C1016.1 209.59 1017.54 209.28 1019.03 208.92C1020.51 208.56 1020.87 207.89 1023.03 207.29C1025.2 206.69 1029.62 205.91 1032.55 205.17C1035.47 204.42 1038.37 203.5 1041.31 202.66C1044.26 201.82 1047.81 200.71 1050.96 199.91C1054.1 199.1 1057.97 198.21 1060.97 197.65C1063.98 197.09 1067.54 196.8 1069.74 196.4C1071.94 196 1073.29 195.55 1074.75 195.15C1076.21 194.75 1077.48 194.34 1078.88 193.9C1080.28 193.45 1081.91 193.19 1083.51 192.39C1085.12 191.59 1087.39 190.15 1088.9 188.89C1090.4 187.62 1091.46 185.81 1092.9 184.5C1094.35 183.2 1097.11 181.35 1097.91 180.75"/>
<path fill="none" stroke="#45dcec" stroke-width="0.95" stroke-linejoin="round" stroke-linecap="round" d="M80.63 267.58C81.39 266.98 84.13 264.83 85.39 263.83C86.65 262.82 87.02 261.82 88.52 261.32C90.02 260.82 93.02 260.74 94.78 260.7C96.55 260.66 98.04 260.81 99.54 261.07C101.04 261.33 102.69 261.88 104.17 262.32C105.66 262.76 107.3 263.23 108.81 263.83C110.31 264.43 112.1 265.52 113.57 266.08C115.03 266.64 116.51 266.99 117.95 267.33C119.39 267.67 121.28 268.17 122.58 268.21C123.88 268.25 124.62 268.58 126.09 267.58C127.55 266.58 130.04 263.55 131.72 261.95C133.4 260.35 134.98 259.03 136.61 257.57C138.23 256.1 140.38 253.57 141.86 252.81C143.35 252.05 144.43 252.35 145.87 252.81C147.31 253.27 149.36 254.83 150.88 255.69C152.4 256.55 153.97 257.53 155.39 258.19C156.81 258.85 158.27 259.16 159.77 259.82C161.27 260.48 163.26 262.18 164.78 262.32C166.3 262.46 167.82 261.26 169.29 260.7C170.75 260.13 172.42 259.48 173.92 258.82C175.42 258.16 177.16 257.16 178.68 256.56C180.2 255.96 182.03 255.4 183.44 255.06C184.84 254.72 186 254.64 187.44 254.43C188.89 254.23 190.85 253.81 192.45 253.81C194.05 253.81 196 253.93 197.46 254.43C198.92 254.94 200.13 256.44 201.59 256.94C203.06 257.44 205 257.77 206.6 257.57C208.2 257.36 209.4 256.19 211.61 255.69C213.82 255.19 218.16 255.14 220.39 254.44C222.62 253.74 224.06 251.51 225.52 251.31C226.99 251.11 228.05 252.19 229.53 253.19C231.01 254.19 233.15 256.17 234.79 257.57C236.43 258.98 238.38 260.55 239.8 261.96C241.22 263.36 242.28 265.14 243.68 266.34C245.08 267.54 246.98 268.47 248.56 269.47C250.15 270.47 252.11 271.9 253.57 272.6C255.03 273.3 256.24 273.45 257.7 273.85C259.17 274.25 261.15 274.5 262.71 275.1C264.28 275.71 266.03 276.81 267.47 277.61C268.91 278.41 270.25 279.01 271.73 280.11C273.21 281.21 275.17 282.79 276.74 284.5C278.3 286.2 280.07 288.95 281.5 290.76C282.92 292.56 284.17 294.26 285.63 295.77C287.09 297.27 289.03 298.95 290.64 300.15C292.24 301.35 294.2 302.98 295.65 303.28C297.09 303.58 298.17 302.43 299.65 302.03C301.13 301.63 303.27 301.37 304.91 300.77C306.55 300.17 308.52 299.17 309.92 298.27C311.32 297.37 312.27 296 313.68 295.14C315.08 294.28 317.12 293.19 318.69 292.89C320.25 292.58 321.98 293.2 323.44 293.26C324.91 293.32 326.36 293.4 327.83 293.26C329.29 293.12 331.02 292.68 332.58 292.38C334.15 292.08 336.11 291.64 337.59 291.38C339.08 291.12 340.37 291.16 341.85 290.76C343.33 290.36 344.61 289.58 346.86 288.88C349.11 288.18 353.7 287.6 355.89 286.4C358.07 285.2 358.98 282.79 360.52 281.39C362.06 279.99 364.09 278.84 365.53 277.63C366.97 276.43 368.03 275.08 369.54 273.88C371.04 272.68 373.26 270.82 374.92 270.12C376.58 269.42 378.49 269.26 379.93 269.5C381.37 269.74 382.53 271.22 383.94 271.62C385.34 272.03 387.09 272.14 388.7 272C390.3 271.86 392.51 271.55 393.95 270.75C395.4 269.95 396.31 268.29 397.71 266.99C399.11 265.69 401.1 264.01 402.72 262.61C404.34 261.21 406.35 258.93 407.85 258.23C409.36 257.52 410.67 257.83 412.11 258.23C413.55 258.63 415.31 260.03 416.87 260.73C418.43 261.43 420.44 261.97 421.88 262.61C423.32 263.25 424.44 264.54 425.89 264.74C427.33 264.94 429.33 264.14 430.89 263.86C432.46 263.58 434.19 263.22 435.65 262.98C437.11 262.74 438.59 262.62 440.03 262.36C441.48 262.1 443.07 261.82 444.67 261.36C446.27 260.9 448.59 259.88 450.05 259.48C451.51 259.08 452.37 259.11 453.81 258.85C455.25 258.59 457.53 258.15 459.07 257.85C460.61 257.55 462.09 257.41 463.45 256.97C464.81 256.53 466.12 255.64 467.58 255.1C469.05 254.55 470.95 254.19 472.59 253.59C474.23 252.99 476.39 252 477.85 251.34C479.31 250.68 479.55 249.66 481.73 249.46C483.92 249.27 489.25 249.11 491.51 250.12C493.78 251.13 494.45 254.35 495.9 255.76C497.34 257.16 498.99 257.89 500.53 258.89C502.07 259.89 504.07 261.62 505.54 262.02C507 262.42 508.21 261.29 509.67 261.39C511.13 261.49 513.04 262.48 514.68 262.64C516.32 262.8 518.43 262.49 519.94 262.39C521.44 262.29 522.71 261.88 524.07 262.02C525.43 262.16 526.95 262.81 528.45 263.27C529.95 263.73 532 264.54 533.46 264.9C534.92 265.26 536.13 265.42 537.59 265.52C539.06 265.62 541 265.48 542.6 265.52C544.2 265.56 546.17 266.03 547.61 265.77C549.05 265.51 550.13 264.9 551.62 263.9C553.1 262.89 555.27 261.12 556.88 259.51C558.48 257.91 560.23 255.68 561.63 253.88C563.04 252.08 564.18 250.31 565.64 248.24C567.1 246.18 569.17 243.08 570.78 240.98C572.38 238.88 574.18 235.74 575.66 235.1C577.14 234.45 578.62 236.27 580.04 236.97C581.46 237.68 583.13 238.38 584.55 239.48C585.97 240.58 587.45 242.42 588.93 243.86C590.41 245.3 592.23 247.29 593.82 248.49C595.4 249.7 597.42 250.85 598.82 251.37C600.23 251.89 601.16 251.85 602.58 251.75C604 251.65 606.15 251.01 607.71 250.75C609.28 250.49 610.91 250.32 612.35 250.12C613.79 249.92 614.5 249.19 616.73 249.5C618.96 249.8 623.99 251.53 626.26 252.03C628.53 252.54 629.35 252.56 630.89 252.66C632.44 252.76 634.38 252.96 635.9 252.66C637.43 252.36 638.99 251.38 640.41 250.78C641.83 250.18 643.35 249.35 644.79 248.9C646.24 248.46 647.82 248.33 649.43 248.03C651.03 247.73 653.35 247.29 654.81 247.03C656.27 246.77 657.12 246.46 658.57 246.4C660.01 246.34 662.22 246.59 663.83 246.65C665.43 246.71 667.14 246.76 668.58 246.78C670.03 246.8 671.4 246.74 672.84 246.78C674.28 246.82 676.08 246.83 677.6 247.03C679.12 247.23 680.86 247.77 682.36 248.03C683.86 248.29 685.55 248.61 686.99 248.65C688.43 248.69 689.77 248.44 691.37 248.28C692.98 248.12 695.51 247.95 697.01 247.65C698.51 247.35 699.36 247.3 700.77 246.4C702.17 245.5 704.17 243.62 705.77 242.02C707.38 240.41 709.34 237.93 710.78 236.38C712.23 234.84 713.33 232.74 714.79 232.38C716.25 232.02 718.36 233.69 719.92 234.13C721.49 234.57 723.17 234.17 724.56 235.13C725.94 236.09 727.1 238.44 728.56 240.14C730.03 241.84 732.13 244.47 733.7 245.77C735.26 247.08 736.85 248.38 738.33 248.28C739.81 248.18 741.46 246.05 742.96 245.15C744.47 244.25 746.16 243.34 747.72 242.64C749.28 241.94 750.5 242.16 752.73 240.77C754.96 239.37 759.35 235.31 761.63 233.91C763.92 232.52 765.52 233.24 767.02 232.03C768.52 230.83 769.62 228.3 771.03 226.4C772.43 224.5 774.22 221.84 775.78 220.14C777.35 218.44 779.35 216.66 780.79 215.76C782.24 214.85 783.4 214.5 784.8 214.5C786.2 214.5 787.96 215.46 789.56 215.76C791.16 216.06 793.33 216.38 794.82 216.38C796.3 216.38 797.38 215.96 798.82 215.76C800.27 215.56 802.27 215.27 803.83 215.13C805.4 214.99 807.19 215.18 808.59 214.88C809.99 214.58 811.14 213.25 812.6 213.25C814.06 213.25 816.11 214.48 817.73 214.88C819.35 215.28 821.3 215.36 822.74 215.76C824.18 216.16 825.31 216.88 826.75 217.38C828.19 217.89 830.19 218.75 831.76 218.89C833.32 219.03 835.05 218.76 836.51 218.26C837.98 217.76 839.45 216.66 840.9 215.76C842.34 214.85 843.93 213.43 845.53 212.63C847.13 211.82 849.41 211.05 850.91 210.75C852.42 210.45 853.52 210.55 854.92 210.75C856.32 210.95 858.12 211.3 859.68 212C861.24 212.7 863.25 214.23 864.69 215.13C866.13 216.03 867.25 217.84 868.7 217.63C870.14 217.43 872.06 215.18 873.7 213.88C875.35 212.58 877.46 210.5 878.96 209.5C880.47 208.49 881.69 207.92 883.1 207.62C884.5 207.32 885.5 206.81 887.73 207.62C889.95 208.42 894.78 211.65 897.01 212.66C899.23 213.67 900.08 213.61 901.64 213.91C903.2 214.21 905.27 214.14 906.78 214.54C908.28 214.94 909.59 216.02 911.03 216.42C912.48 216.82 914.23 217.04 915.79 217.04C917.35 217.04 919.34 216.62 920.8 216.42C922.26 216.22 923.53 216.29 924.93 215.79C926.33 215.29 928.02 214.49 929.57 213.29C931.11 212.08 933.07 209.68 934.57 208.28C936.08 206.88 937.51 205.42 938.96 204.52C940.4 203.62 941.99 203.04 943.59 202.64C945.19 202.24 947.51 201.92 948.97 202.02C950.44 202.12 951.33 202.77 952.73 203.27C954.13 203.77 956.14 204.65 957.74 205.15C959.34 205.65 961.31 205.9 962.75 206.4C964.19 206.9 965.39 207.84 966.75 208.28C968.12 208.72 969.7 209.15 971.26 209.15C972.83 209.15 975.02 208.72 976.52 208.28C978.02 207.84 979.19 207 980.65 206.4C982.12 205.8 984.02 204.82 985.66 204.52C987.31 204.22 989.44 204.12 990.92 204.52C992.4 204.92 993.53 205.92 994.93 207.03C996.33 208.13 998.16 210.11 999.69 211.41C1001.21 212.71 1002.99 214.36 1004.45 215.17C1005.9 215.97 1007.27 215.63 1008.76 216.43C1010.25 217.24 1012.52 219.69 1013.77 220.19C1015.01 220.69 1015.04 221.57 1016.52 219.57C1018 217.56 1021.23 210.77 1023.03 207.67C1024.84 204.56 1026.27 202.46 1027.79 200.16C1029.31 197.85 1031.11 195.37 1032.55 193.27C1033.99 191.17 1035.4 188.71 1036.81 187.01C1038.21 185.31 1039.69 184.03 1041.31 182.63C1042.94 181.22 1045.41 179.04 1046.95 178.24C1048.49 177.44 1049.55 177.62 1050.96 177.62C1052.36 177.62 1054.11 177.54 1055.71 178.24C1057.32 178.94 1059.49 180.8 1060.97 182C1062.46 183.2 1063.58 184.25 1064.98 185.76C1066.38 187.26 1068.18 190.99 1069.74 191.39C1071.3 191.79 1073.29 189.36 1074.75 188.26C1076.21 187.16 1077.48 186.21 1078.88 184.5C1080.28 182.8 1081.91 179.92 1083.51 177.62C1085.12 175.31 1087.39 172.71 1088.9 170.1C1090.4 167.5 1091.46 164.04 1092.9 161.34C1094.35 158.63 1097.11 154.5 1097.91 153.2"/>
</g></g>
<rect x="1050" y="97" width="1" height="358" fill="#3c42b4"/>
<path stroke="#000" stroke-width="1" fill="none" d="M80.5 97.5H1106.5V455.5H80.5ZM80.5 336.5H1106.5"/>
<rect x="1107" y="111" width="5" height="1" fill="#7a7a7a"/>
<text x="1114.6" y="114.6" font-size="11.4" fill="#111" textLength="22.2" lengthAdjust="spacingAndGlyphs">736</text>
<rect x="1107" y="134" width="5" height="1" fill="#7a7a7a"/>
<text x="1114.6" y="137.6" font-size="11.4" fill="#111" textLength="22.2" lengthAdjust="spacingAndGlyphs">704</text>
<rect x="1107" y="157" width="5" height="1" fill="#7a7a7a"/>
<text x="1114.6" y="160.6" font-size="11.4" fill="#111" textLength="22.2" lengthAdjust="spacingAndGlyphs">672</text>
<rect x="1107" y="180" width="5" height="1" fill="#7a7a7a"/>
<text x="1114.6" y="183.6" font-size="11.4" fill="#111" textLength="22.2" lengthAdjust="spacingAndGlyphs">640</text>
<rect x="1107" y="203" width="5" height="1" fill="#7a7a7a"/>
<text x="1114.6" y="206.6" font-size="11.4" fill="#111" textLength="22.2" lengthAdjust="spacingAndGlyphs">608</text>
<rect x="1107" y="225" width="5" height="1" fill="#7a7a7a"/>
<text x="1114.6" y="228.6" font-size="11.4" fill="#111" textLength="22.2" lengthAdjust="spacingAndGlyphs">576</text>
<rect x="1107" y="248" width="5" height="1" fill="#7a7a7a"/>
<text x="1114.6" y="251.6" font-size="11.4" fill="#111" textLength="22.2" lengthAdjust="spacingAndGlyphs">544</text>
<rect x="1107" y="271" width="5" height="1" fill="#7a7a7a"/>
<text x="1114.6" y="274.6" font-size="11.4" fill="#111" textLength="22.2" lengthAdjust="spacingAndGlyphs">512</text>
<rect x="1107" y="294" width="5" height="1" fill="#7a7a7a"/>
<text x="1114.6" y="297.6" font-size="11.4" fill="#111" textLength="22.2" lengthAdjust="spacingAndGlyphs">480</text>
<rect x="1107" y="317" width="5" height="1" fill="#7a7a7a"/>
<text x="1114.6" y="320.6" font-size="11.4" fill="#111" textLength="22.2" lengthAdjust="spacingAndGlyphs">448</text>
<rect x="80" y="456" width="1" height="4" fill="#7a7a7a"/>
<text x="67.15" y="471.7" font-size="10.4" fill="#111" textLength="24.8" lengthAdjust="spacingAndGlyphs">3/21</text>
<text x="67.15" y="485.7" font-size="10.4" fill="#111" textLength="26.7" lengthAdjust="spacingAndGlyphs">2019</text>
<rect x="113" y="456" width="1" height="4" fill="#7a7a7a"/>
<text x="101.1" y="471.7" font-size="10.4" fill="#111" textLength="24.8" lengthAdjust="spacingAndGlyphs">4/01</text>
<rect x="206" y="456" width="1" height="4" fill="#7a7a7a"/>
<text x="194.1" y="471.7" font-size="10.4" fill="#111" textLength="24.8" lengthAdjust="spacingAndGlyphs">5/02</text>
<rect x="309" y="456" width="1" height="4" fill="#7a7a7a"/>
<text x="297.1" y="471.7" font-size="10.4" fill="#111" textLength="24.8" lengthAdjust="spacingAndGlyphs">6/03</text>
<rect x="397" y="456" width="1" height="4" fill="#7a7a7a"/>
<text x="385.1" y="471.7" font-size="10.4" fill="#111" textLength="24.8" lengthAdjust="spacingAndGlyphs">7/01</text>
<rect x="505" y="456" width="1" height="4" fill="#7a7a7a"/>
<text x="493.1" y="471.7" font-size="10.4" fill="#111" textLength="24.8" lengthAdjust="spacingAndGlyphs">8/01</text>
<rect x="602" y="456" width="1" height="4" fill="#7a7a7a"/>
<text x="590.1" y="471.7" font-size="10.4" fill="#111" textLength="24.8" lengthAdjust="spacingAndGlyphs">9/02</text>
<rect x="691" y="456" width="1" height="4" fill="#7a7a7a"/>
<text x="675.75" y="471.7" font-size="10.4" fill="#111" textLength="31.5" lengthAdjust="spacingAndGlyphs">10/01</text>
<rect x="789" y="456" width="1" height="4" fill="#7a7a7a"/>
<text x="773.75" y="471.7" font-size="10.4" fill="#111" textLength="31.5" lengthAdjust="spacingAndGlyphs">11/01</text>
<rect x="887" y="456" width="1" height="4" fill="#7a7a7a"/>
<text x="871.75" y="471.7" font-size="10.4" fill="#111" textLength="31.5" lengthAdjust="spacingAndGlyphs">12/02</text>
<rect x="990" y="456" width="1" height="4" fill="#7a7a7a"/>
<text x="977.15" y="471.7" font-size="10.4" fill="#111" textLength="24.8" lengthAdjust="spacingAndGlyphs">1/02</text>
<text x="977.15" y="485.7" font-size="10.4" fill="#111" textLength="26.7" lengthAdjust="spacingAndGlyphs">2020</text>
<text x="84.4" y="110.9" font-size="12" fill="#000">開</text>
<text x="99.9" y="110.9" font-size="12.5" fill="#000" textLength="18.6" lengthAdjust="spacingAndGlyphs">645</text>
<text x="125.8" y="110.9" font-size="12" fill="#000">高</text>
<text x="142" y="110.9" font-size="12.5" fill="#000" textLength="18.6" lengthAdjust="spacingAndGlyphs">648</text>
<text x="168.2" y="110.9" font-size="12" fill="#000">低</text>
<text x="183.7" y="110.9" font-size="12.5" fill="#000" textLength="18.8" lengthAdjust="spacingAndGlyphs">624</text>
<text x="210" y="110.9" font-size="12" fill="#000">收</text>
<text x="226.2" y="110.9" font-size="12.5" fill="#000" textLength="18.6" lengthAdjust="spacingAndGlyphs">628</text>
<text x="265.5" y="110.9" font-size="12.5" fill="#4fdbe9" textLength="60.6" lengthAdjust="spacingAndGlyphs">5MA 641.8</text>
<text x="341.9" y="110.9" font-size="12.5" fill="#f0a94a" textLength="67.8" lengthAdjust="spacingAndGlyphs">20MA 612.1</text>
<text x="426" y="110.9" font-size="12.5" fill="#2222a8" textLength="74.6" lengthAdjust="spacingAndGlyphs">60MA 600.55</text>
<text x="84.2" y="351.2" font-size="12" fill="#333" textLength="36.4" lengthAdjust="spacingAndGlyphs">成交量</text>
<text x="124.6" y="351.2" font-size="12.5" fill="#333" textLength="19" lengthAdjust="spacingAndGlyphs">912</text>
<rect x="1010.5" y="456.5" width="79" height="16" fill="#ffffc3" stroke="#dcdca0" stroke-width="1"/>
<text x="1017.9" y="467.8" font-size="10.4" fill="#a9a99a" textLength="64.8" lengthAdjust="spacingAndGlyphs">2020/01/30</text>
<rect x="87" y="552" width="1019" height="359" fill="#fff"/>
<path stroke="#d2d2d2" stroke-width="1" stroke-dasharray="3 1" fill="none" d="M88 566.5H1106M88 589.5H1106M88 612.5H1106M88 635.5H1106M88 658.5H1106M88 682.5H1106M88 705.5H1106M88 728.5H1106M88 751.5H1106M88 774.5H1106"/>
<path stroke="#d2d2d2" stroke-width="1" stroke-dasharray="3 1" fill="none" d="M186.5 553V911M304.5 553V911M422.5 553V911M540.5 553V911M659.5 553V911M777.5 553V911M895.5 553V911M1013.5 553V911"/>
<path fill="#6f6f6f" d="M87 898H90.6V911H87zM93.66 908H100.45V911H93.66zM103.51 910H110.31V911H103.51zM113.36 909H120.16V911H113.36zM123.22 910H130.02V911H123.22zM133.08 910H139.88V911H133.08zM142.93 907H149.73V911H142.93zM152.79 908H159.59V911H152.79zM162.64 900H169.44V911H162.64zM172.5 900H179.29V911H172.5zM182.35 895H189.15V911H182.35zM192.21 885H199V911H192.21zM202.06 877H208.86V911H202.06zM211.92 888H218.72V911H211.92zM221.77 862H228.57V911H221.77zM231.63 871H238.43V911H231.63zM241.48 866H248.28V911H241.48zM251.34 890H258.13V911H251.34zM261.19 867H267.99V911H261.19zM271.05 890H277.85V911H271.05zM280.9 879H287.7V911H280.9zM290.76 890H297.56V911H290.76zM300.61 899H307.41V911H300.61zM310.47 885H317.27V911H310.47zM320.32 876H327.12V911H320.32zM330.18 854H336.98V911H330.18zM340.03 857H346.83V911H340.03zM349.89 849H356.69V911H349.89zM359.74 834H366.54V911H359.74zM369.6 857H376.4V911H369.6zM379.45 811H386.25V911H379.45zM389.31 844H396.11V911H389.31zM399.16 846H405.96V911H399.16zM409.02 819H415.82V911H409.02zM418.87 847H425.67V911H418.87zM428.73 839H435.53V911H428.73zM438.58 871H445.38V911H438.58zM448.44 843H455.24V911H448.44zM458.29 874H465.09V911H458.29zM468.15 884H474.95V911H468.15zM478 882H484.8V911H478zM487.86 888H494.66V911H487.86zM497.71 881H504.51V911H497.71zM507.57 879H514.37V911H507.57zM517.42 861H524.22V911H517.42zM527.27 864H534.08V911H527.27zM537.13 874H543.93V911H537.13zM546.98 849H553.78V911H546.98zM556.84 852H563.64V911H556.84zM566.69 857H573.5V911H566.69zM576.55 881H583.35V911H576.55zM586.4 879H593.21V911H586.4zM596.26 854H603.06V911H596.26zM606.12 861H612.92V911H606.12zM615.97 859H622.77V911H615.97zM625.82 864H632.62V911H625.82zM635.68 876H642.48V911H635.68zM645.53 890H652.34V911H645.53zM655.39 876H662.19V911H655.39zM665.25 890H672.05V911H665.25zM675.1 892H681.9V911H675.1zM684.95 892H691.75V911H684.95zM694.81 888H701.61V911H694.81zM704.66 894H711.47V911H704.66zM714.52 901H721.32V911H714.52zM724.38 895H731.18V911H724.38zM734.23 894H741.03V911H734.23zM744.09 895H750.89V911H744.09zM753.94 891H760.74V911H753.94zM763.79 866H770.6V911H763.79zM773.65 869H780.45V911H773.65zM783.5 862H790.31V911H783.5zM793.36 881H800.16V911H793.36zM803.22 886H810.02V911H803.22zM813.07 869H819.87V911H813.07zM822.92 886H829.73V911H822.92zM832.78 885H839.58V911H832.78zM842.63 896H849.44V911H842.63zM852.49 890H859.29V911H852.49zM862.35 890H869.15V911H862.35zM872.2 888H879V911H872.2zM882.05 890H888.86V911H882.05zM891.91 895H898.71V911H891.91zM901.76 897H908.57V911H901.76zM911.62 900H918.42V911H911.62zM921.48 887H928.28V911H921.48zM931.33 885H938.13V911H931.33zM941.18 900H947.99V911H941.18zM951.04 894H957.84V911H951.04zM960.89 892H967.7V911H960.89zM970.75 895H977.55V911H970.75zM980.61 897H987.41V911H980.61zM990.46 895H997.26V911H990.46zM1000.31 904H1007.12V911H1000.31zM1010.17 899H1016.97V911H1010.17zM1020.02 895H1026.83V911H1020.02zM1029.88 904H1036.68V911H1029.88zM1039.73 894H1046.53V911H1039.73zM1049.59 890H1056.39V911H1049.59zM1059.44 902H1066.24V911H1059.44zM1069.3 895H1076.1V911H1069.3zM1079.15 897H1085.95V911H1079.15z"/>
<clipPath id="c2"><rect x="87" y="552" width="1019" height="359"/></clipPath>
<g clip-path="url(#c2)"><path fill="#a81414" d="M87 700h1V772h-1z"/><rect x="83.5" y="700.5" width="8" height="71" fill="#fa0a0a" stroke="#d80c0c" stroke-width="1"/><path fill="#0b5f0b" d="M97 696h1V735h-1z"/><rect x="93.5" y="703.5" width="8" height="31" fill="#0a800f" stroke="#0a6e0c" stroke-width="1"/><path fill="#a81414" d="M107 718h1V740h-1z"/><rect x="103.5" y="732.5" width="8" height="2" fill="#fa0a0a" stroke="#d80c0c" stroke-width="1"/><path fill="#a81414" d="M117 686h1V736h-1z"/><rect x="113.5" y="689.5" width="8" height="42" fill="#fa0a0a" stroke="#d80c0c" stroke-width="1"/><path fill="#a81414" d="M126 674h1V707h-1z"/><rect x="122.5" y="680.5" width="8" height="8" fill="#fa0a0a" stroke="#d80c0c" stroke-width="1"/><path fill="#a81414" d="M136 664h1V692h-1z"/><rect x="132.5" y="667.5" width="8" height="15" fill="#fa0a0a" stroke="#d80c0c" stroke-width="1"/><path fill="#0b5f0b" d="M146 658h1V712h-1z"/><rect x="142.5" y="667.5" width="8" height="38" fill="#0a800f" stroke="#0a6e0c" stroke-width="1"/><path fill="#a81414" d="M156 690h1V715h-1z"/><rect x="152" y="706" width="9" height="2" fill="#fa0a0a"/><path fill="#a81414" d="M166 678h1V705h-1z"/><rect x="162.5" y="678.5" width="8" height="26" fill="#fa0a0a" stroke="#d80c0c" stroke-width="1"/><path fill="#0b5f0b" d="M176 676h1V698h-1z"/><rect x="172.5" y="681.5" width="8" height="5" fill="#0a800f" stroke="#0a6e0c" stroke-width="1"/><path fill="#0b5f0b" d="M186 679h1V725h-1z"/><rect x="182.5" y="687.5" width="8" height="30" fill="#0a800f" stroke="#0a6e0c" stroke-width="1"/><path fill="#a81414" d="M195 700h1V721h-1z"/><rect x="191.5" y="707.5" width="8" height="8" fill="#fa0a0a" stroke="#d80c0c" stroke-width="1"/><path fill="#a81414" d="M205 689h1V711h-1z"/><rect x="201.5" y="698.5" width="8" height="8" fill="#fa0a0a" stroke="#d80c0c" stroke-width="1"/><path fill="#0b5f0b" d="M215 697h1V740h-1z"/><rect x="211.5" y="697.5" width="8" height="38" fill="#0a800f" stroke="#0a6e0c" stroke-width="1"/><path fill="#0b5f0b" d="M225 731h1V756h-1z"/><rect x="221.5" y="737.5" width="8" height="4" fill="#0a800f" stroke="#0a6e0c" stroke-width="1"/><path fill="#0b5f0b" d="M235 735h1V756h-1z"/><rect x="231.5" y="741.5" width="8" height="4" fill="#0a800f" stroke="#0a6e0c" stroke-width="1"/><path fill="#a81414" d="M245 728h1V747h-1z"/><rect x="241.5" y="731.5" width="8" height="13" fill="#fa0a0a" stroke="#d80c0c" stroke-width="1"/><path fill="#0b5f0b" d="M255 732h1V741h-1z"/><rect x="251" y="737" width="9" height="1" fill="#0a6e0c"/><path fill="#a81414" d="M264 721h1V735h-1z"/><rect x="260.5" y="724.5" width="8" height="10" fill="#fa0a0a" stroke="#d80c0c" stroke-width="1"/><path fill="#0b5f0b" d="M274 723h1V734h-1z"/><rect x="270.5" y="724.5" width="8" height="3" fill="#0a800f" stroke="#0a6e0c" stroke-width="1"/><path fill="#a81414" d="M284 716h1V735h-1z"/><rect x="280.5" y="720.5" width="8" height="7" fill="#fa0a0a" stroke="#d80c0c" stroke-width="1"/><path fill="#0b5f0b" d="M294 718h1V751h-1z"/><rect x="290.5" y="720.5" width="8" height="19" fill="#0a800f" stroke="#0a6e0c" stroke-width="1"/><path fill="#0b5f0b" d="M304 735h1V750h-1z"/><rect x="300.5" y="738.5" width="8" height="7" fill="#0a800f" stroke="#0a6e0c" stroke-width="1"/><path fill="#a81414" d="M314 724h1V751h-1z"/><rect x="310.5" y="725.5" width="8" height="20" fill="#fa0a0a" stroke="#d80c0c" stroke-width="1"/><path fill="#a81414" d="M324 744h1V754h-1z"/><rect x="320" y="751" width="9" height="2" fill="#fa0a0a"/><path fill="#a81414" d="M333 744h1V758h-1z"/><rect x="329.5" y="746.5" width="8" height="4" fill="#fa0a0a" stroke="#d80c0c" stroke-width="1"/><path fill="#0b5f0b" d="M343 745h1V769h-1z"/><rect x="339.5" y="746.5" width="8" height="15" fill="#0a800f" stroke="#0a6e0c" stroke-width="1"/><path fill="#a81414" d="M353 739h1V762h-1z"/><rect x="349.5" y="742.5" width="8" height="19" fill="#fa0a0a" stroke="#d80c0c" stroke-width="1"/><path fill="#0b5f0b" d="M363 735h1V748h-1z"/><rect x="359.5" y="741.5" width="8" height="6" fill="#0a800f" stroke="#0a6e0c" stroke-width="1"/><path fill="#a81414" d="M373 740h1V749h-1z"/><rect x="369.5" y="742.5" width="8" height="6" fill="#fa0a0a" stroke="#d80c0c" stroke-width="1"/><path fill="#a81414" d="M383 725h1V742h-1z"/><rect x="379.5" y="736.5" width="8" height="5" fill="#fa0a0a" stroke="#d80c0c" stroke-width="1"/><path fill="#a81414" d="M393 727h1V742h-1z"/><rect x="389" y="734" width="9" height="2" fill="#fa0a0a"/><path fill="#a81414" d="M402 705h1V734h-1z"/><rect x="398.5" y="705.5" width="8" height="27" fill="#fa0a0a" stroke="#d80c0c" stroke-width="1"/><path fill="#a81414" d="M412 674h1V708h-1z"/><rect x="408.5" y="685.5" width="8" height="17" fill="#fa0a0a" stroke="#d80c0c" stroke-width="1"/><path fill="#0b5f0b" d="M422 682h1V702h-1z"/><rect x="418.5" y="685.5" width="8" height="5" fill="#0a800f" stroke="#0a6e0c" stroke-width="1"/><path fill="#0b5f0b" d="M432 688h1V721h-1z"/><rect x="428.5" y="692.5" width="8" height="7" fill="#0a800f" stroke="#0a6e0c" stroke-width="1"/><path fill="#0b5f0b" d="M442 699h1V713h-1z"/><rect x="438.5" y="700.5" width="8" height="5" fill="#0a800f" stroke="#0a6e0c" stroke-width="1"/><path fill="#0b5f0b" d="M452 696h1V731h-1z"/><rect x="448.5" y="707.5" width="8" height="15" fill="#0a800f" stroke="#0a6e0c" stroke-width="1"/><path fill="#a81414" d="M461 714h1V731h-1z"/><rect x="457.5" y="719.5" width="8" height="3" fill="#fa0a0a" stroke="#d80c0c" stroke-width="1"/><path fill="#0b5f0b" d="M471 710h1V723h-1z"/><rect x="467" y="721" width="9" height="1" fill="#0a6e0c"/><path fill="#a81414" d="M481 710h1V728h-1z"/><rect x="477.5" y="714.5" width="8" height="5" fill="#fa0a0a" stroke="#d80c0c" stroke-width="1"/><path fill="#0b5f0b" d="M491 712h1V728h-1z"/><rect x="487.5" y="714.5" width="8" height="5" fill="#0a800f" stroke="#0a6e0c" stroke-width="1"/><path fill="#0b5f0b" d="M501 712h1V725h-1z"/><rect x="497" y="721" width="9" height="1" fill="#0a6e0c"/><path fill="#a81414" d="M511 713h1V723h-1z"/><rect x="507.5" y="719.5" width="8" height="2" fill="#fa0a0a" stroke="#d80c0c" stroke-width="1"/><path fill="#a81414" d="M521 699h1V722h-1z"/><rect x="517.5" y="702.5" width="8" height="14" fill="#fa0a0a" stroke="#d80c0c" stroke-width="1"/><path fill="#a81414" d="M530 693h1V712h-1z"/><rect x="526" y="701" width="9" height="1" fill="#d80c0c"/><path fill="#0b5f0b" d="M540 691h1V731h-1z"/><rect x="536.5" y="698.5" width="8" height="32" fill="#0a800f" stroke="#0a6e0c" stroke-width="1"/><path fill="#0b5f0b" d="M550 732h1V765h-1z"/><rect x="546.5" y="734.5" width="8" height="11" fill="#0a800f" stroke="#0a6e0c" stroke-width="1"/><path fill="#a81414" d="M560 727h1V749h-1z"/><rect x="556.5" y="740.5" width="8" height="5" fill="#fa0a0a" stroke="#d80c0c" stroke-width="1"/><path fill="#a81414" d="M570 727h1V742h-1z"/><rect x="566" y="736" width="9" height="2" fill="#fa0a0a"/><path fill="#0b5f0b" d="M580 733h1V748h-1z"/><rect x="576.5" y="736.5" width="8" height="8" fill="#0a800f" stroke="#0a6e0c" stroke-width="1"/><path fill="#0b5f0b" d="M590 736h1V751h-1z"/><rect x="586" y="745" width="9" height="1" fill="#0a6e0c"/><path fill="#a81414" d="M599 727h1V758h-1z"/><rect x="595.5" y="730.5" width="8" height="15" fill="#fa0a0a" stroke="#d80c0c" stroke-width="1"/><path fill="#a81414" d="M609 712h1V731h-1z"/><rect x="605.5" y="717.5" width="8" height="10" fill="#fa0a0a" stroke="#d80c0c" stroke-width="1"/><path fill="#a81414" d="M619 703h1V723h-1z"/><rect x="615.5" y="713.5" width="8" height="3" fill="#fa0a0a" stroke="#d80c0c" stroke-width="1"/><path fill="#0b5f0b" d="M629 698h1V720h-1z"/><rect x="625.5" y="714.5" width="8" height="5" fill="#0a800f" stroke="#0a6e0c" stroke-width="1"/><path fill="#a81414" d="M639 709h1V726h-1z"/><rect x="635.5" y="710.5" width="8" height="7" fill="#fa0a0a" stroke="#d80c0c" stroke-width="1"/><path fill="#0b5f0b" d="M649 708h1V722h-1z"/><rect x="645.5" y="710.5" width="8" height="5" fill="#0a800f" stroke="#0a6e0c" stroke-width="1"/><path fill="#0b5f0b" d="M659 715h1V727h-1z"/><rect x="655.5" y="717.5" width="8" height="6" fill="#0a800f" stroke="#0a6e0c" stroke-width="1"/><path fill="#a81414" d="M668 715h1V724h-1z"/><rect x="664.5" y="718.5" width="8" height="5" fill="#fa0a0a" stroke="#d80c0c" stroke-width="1"/><path fill="#a81414" d="M678 702h1V716h-1z"/><rect x="674.5" y="713.5" width="8" height="2" fill="#fa0a0a" stroke="#d80c0c" stroke-width="1"/><path fill="#a81414" d="M688 696h1V715h-1z"/><rect x="684.5" y="701.5" width="8" height="11" fill="#fa0a0a" stroke="#d80c0c" stroke-width="1"/><path fill="#0b5f0b" d="M698 700h1V713h-1z"/><rect x="694.5" y="701.5" width="8" height="5" fill="#0a800f" stroke="#0a6e0c" stroke-width="1"/><path fill="#0b5f0b" d="M708 707h1V719h-1z"/><rect x="704.5" y="707.5" width="8" height="6" fill="#0a800f" stroke="#0a6e0c" stroke-width="1"/><path fill="#a81414" d="M718 709h1V719h-1z"/><rect x="714" y="713" width="9" height="1" fill="#d80c0c"/><path fill="#0b5f0b" d="M728 704h1V713h-1z"/><rect x="724" y="710" width="9" height="1" fill="#0a6e0c"/><path fill="#a81414" d="M737 700h1V716h-1z"/><rect x="733.5" y="702.5" width="8" height="8" fill="#fa0a0a" stroke="#d80c0c" stroke-width="1"/><path fill="#0b5f0b" d="M747 697h1V712h-1z"/><rect x="743" y="701" width="9" height="1" fill="#0a6e0c"/><path fill="#0b5f0b" d="M757 699h1V710h-1z"/><rect x="753" y="701" width="9" height="1" fill="#0a6e0c"/><path fill="#a81414" d="M767 684h1V706h-1z"/><rect x="763.5" y="695.5" width="8" height="7" fill="#fa0a0a" stroke="#d80c0c" stroke-width="1"/><path fill="#a81414" d="M777 662h1V695h-1z"/><rect x="773.5" y="673.5" width="8" height="21" fill="#fa0a0a" stroke="#d80c0c" stroke-width="1"/><path fill="#a81414" d="M787 656h1V681h-1z"/><rect x="783.5" y="659.5" width="8" height="12" fill="#fa0a0a" stroke="#d80c0c" stroke-width="1"/><path fill="#0b5f0b" d="M797 645h1V668h-1z"/><rect x="793" y="658" width="9" height="1" fill="#0a6e0c"/><path fill="#a81414" d="M806 649h1V672h-1z"/><rect x="802" y="657" width="9" height="1" fill="#d80c0c"/><path fill="#a81414" d="M816 621h1V655h-1z"/><rect x="812.5" y="631.5" width="8" height="23" fill="#fa0a0a" stroke="#d80c0c" stroke-width="1"/><path fill="#a81414" d="M826 612h1V650h-1z"/><rect x="822.5" y="623.5" width="8" height="6" fill="#fa0a0a" stroke="#d80c0c" stroke-width="1"/><path fill="#a81414" d="M836 606h1V633h-1z"/><rect x="832.5" y="616.5" width="8" height="6" fill="#fa0a0a" stroke="#d80c0c" stroke-width="1"/><path fill="#0b5f0b" d="M846 615h1V660h-1z"/><rect x="842.5" y="617.5" width="8" height="15" fill="#0a800f" stroke="#0a6e0c" stroke-width="1"/><path fill="#a81414" d="M856 617h1V650h-1z"/><rect x="852.5" y="626.5" width="8" height="10" fill="#fa0a0a" stroke="#d80c0c" stroke-width="1"/><path fill="#0b5f0b" d="M866 625h1V675h-1z"/><rect x="862.5" y="626.5" width="8" height="39" fill="#0a800f" stroke="#0a6e0c" stroke-width="1"/><path fill="#a81414" d="M875 653h1V679h-1z"/><rect x="871.5" y="653.5" width="8" height="11" fill="#fa0a0a" stroke="#d80c0c" stroke-width="1"/><path fill="#a81414" d="M885 636h1V658h-1z"/><rect x="881.5" y="649.5" width="8" height="5" fill="#fa0a0a" stroke="#d80c0c" stroke-width="1"/><path fill="#0b5f0b" d="M895 643h1V670h-1z"/><rect x="891.5" y="648.5" width="8" height="14" fill="#0a800f" stroke="#0a6e0c" stroke-width="1"/><path fill="#0b5f0b" d="M905 650h1V681h-1z"/><rect x="901.5" y="662.5" width="8" height="5" fill="#0a800f" stroke="#0a6e0c" stroke-width="1"/><path fill="#a81414" d="M915 661h1V679h-1z"/><rect x="911.5" y="663.5" width="8" height="2" fill="#fa0a0a" stroke="#d80c0c" stroke-width="1"/><path fill="#0b5f0b" d="M925 658h1V699h-1z"/><rect x="921.5" y="663.5" width="8" height="19" fill="#0a800f" stroke="#0a6e0c" stroke-width="1"/><path fill="#a81414" d="M935 661h1V691h-1z"/><rect x="931.5" y="667.5" width="8" height="16" fill="#fa0a0a" stroke="#d80c0c" stroke-width="1"/><path fill="#0b5f0b" d="M944 649h1V680h-1z"/><rect x="940.5" y="661.5" width="8" height="14" fill="#0a800f" stroke="#0a6e0c" stroke-width="1"/><path fill="#a81414" d="M954 645h1V677h-1z"/><rect x="950.5" y="653.5" width="8" height="20" fill="#fa0a0a" stroke="#d80c0c" stroke-width="1"/><path fill="#a81414" d="M964 632h1V652h-1z"/><rect x="960.5" y="638.5" width="8" height="13" fill="#fa0a0a" stroke="#d80c0c" stroke-width="1"/><path fill="#0b5f0b" d="M974 630h1V653h-1z"/><rect x="970.5" y="632.5" width="8" height="13" fill="#0a800f" stroke="#0a6e0c" stroke-width="1"/><path fill="#a81414" d="M984 634h1V651h-1z"/><rect x="980" y="645" width="9" height="2" fill="#fa0a0a"/><path fill="#0b5f0b" d="M994 635h1V671h-1z"/><rect x="990.5" y="645.5" width="8" height="11" fill="#0a800f" stroke="#0a6e0c" stroke-width="1"/><path fill="#a81414" d="M1004 642h1V662h-1z"/><rect x="1000.5" y="643.5" width="8" height="16" fill="#fa0a0a" stroke="#d80c0c" stroke-width="1"/><path fill="#0b5f0b" d="M1013 633h1V647h-1z"/><rect x="1009.5" y="640.5" width="8" height="6" fill="#0a800f" stroke="#0a6e0c" stroke-width="1"/><path fill="#a81414" d="M1023 620h1V650h-1z"/><rect x="1019.5" y="638.5" width="8" height="8" fill="#fa0a0a" stroke="#d80c0c" stroke-width="1"/><path fill="#0b5f0b" d="M1033 634h1V643h-1z"/><rect x="1029" y="638" width="9" height="1" fill="#0a6e0c"/><path fill="#a81414" d="M1043 619h1V641h-1z"/><rect x="1039.5" y="623.5" width="8" height="13" fill="#fa0a0a" stroke="#d80c0c" stroke-width="1"/><path fill="#a81414" d="M1053 604h1V634h-1z"/><rect x="1049.5" y="620.5" width="8" height="2" fill="#fa0a0a" stroke="#d80c0c" stroke-width="1"/><path fill="#a81414" d="M1063 612h1V626h-1z"/><rect x="1059.5" y="614.5" width="8" height="5" fill="#fa0a0a" stroke="#d80c0c" stroke-width="1"/><path fill="#a81414" d="M1072 593h1V630h-1z"/><rect x="1068.5" y="607.5" width="8" height="7" fill="#fa0a0a" stroke="#d80c0c" stroke-width="1"/><path fill="#a81414" d="M1082 581h1V618h-1z"/><rect x="1078.5" y="583.5" width="8" height="28" fill="#fa0a0a" stroke="#d80c0c" stroke-width="1"/></g>
<path fill="none" stroke="#1a1aa0" stroke-width="1.15" stroke-linejoin="round" stroke-linecap="round" d="M668.56 721.38C670.16 721.38 675.37 721.43 678.57 721.38C681.78 721.32 685.39 721.23 688.59 721.04C691.8 720.86 695.46 720.16 698.61 720.21C701.76 720.26 705.27 721.11 708.29 721.38C711.31 721.64 714.43 721.66 717.47 721.88C720.52 722.09 724.12 722.63 727.33 722.71C730.53 722.79 734.28 722.43 737.51 722.38C740.74 722.33 744.35 722.38 747.53 722.38C750.71 722.38 754.2 722.38 757.38 722.38C760.56 722.38 764.16 722.38 767.39 722.38C770.63 722.38 774.48 722.59 777.58 722.38C780.68 722.17 783.72 721.44 786.76 721.04C789.81 720.64 793.49 720.22 796.61 719.87C799.74 719.53 803.14 719.35 806.3 718.87C809.45 718.39 813.11 717.37 816.31 716.87C819.52 716.37 823.14 716.28 826.34 715.75C829.55 715.23 831.71 714.46 836.36 713.58C841.01 712.7 849.14 711.23 855.39 710.24C861.65 709.26 869.02 708.21 875.43 707.41C881.84 706.6 889.11 705.98 895.46 705.23C901.82 704.49 908.89 703.53 915.17 702.73C921.44 701.93 928.42 701.11 934.7 700.23C940.98 699.34 949.66 697.89 954.4 697.22C959.14 696.56 961.15 696.52 964.34 696.07C967.54 695.62 971.32 694.93 974.36 694.4C977.41 693.87 980.33 693.21 983.38 692.73C986.42 692.25 990.19 691.66 993.39 691.39C996.6 691.13 1000.21 691.25 1003.41 691.06C1006.62 690.87 1010.22 690.49 1013.43 690.23C1016.64 689.96 1020.21 689.71 1023.45 689.39C1026.68 689.07 1030.43 688.76 1033.63 688.22C1036.84 687.69 1040.44 686.67 1043.48 686.05C1046.53 685.44 1049.59 684.86 1052.66 684.38C1055.74 683.9 1059.53 683.58 1062.68 683.05C1065.83 682.51 1069.21 681.68 1072.37 681.04C1075.52 680.4 1080.78 679.36 1082.38 679.04"/>
<g opacity="0.92">
<path fill="none" stroke="#f2a633" stroke-width="1.1" stroke-linejoin="round" stroke-linecap="round" d="M274.18 712.63C275.81 712.76 281.13 713.25 284.36 713.46C287.59 713.67 291.17 713.83 294.38 713.96C297.58 714.1 301.19 713.84 304.4 714.3C307.6 714.75 311.34 715.78 314.41 716.8C317.49 717.82 320.55 719.49 323.6 720.64C326.64 721.79 330.27 723.07 333.45 723.98C336.63 724.89 340.26 725.6 343.46 726.32C346.67 727.04 350.28 727.61 353.48 728.49C356.69 729.37 360.29 730.89 363.5 731.83C366.7 732.76 370.31 733.72 373.52 734.33C376.72 734.94 380.46 735.27 383.53 735.67C386.61 736.07 389.7 736.65 392.72 736.83C395.74 737.02 399.25 737.1 402.4 736.83C405.55 736.57 409.21 735.83 412.42 735.17C415.62 734.5 419.23 733.38 422.43 732.66C425.64 731.94 429.25 731.27 432.45 730.66C435.66 730.04 439.26 729.25 442.47 728.82C445.68 728.39 449.44 728.25 452.49 727.99C455.53 727.72 458.47 727.39 461.52 727.15C464.56 726.91 468.33 726.62 471.53 726.48C474.74 726.35 478.35 726.4 481.55 726.32C484.76 726.24 488.42 726.17 491.57 725.98C494.72 725.8 498.05 725.47 501.25 725.15C504.46 724.83 508.53 724.51 511.6 723.98C514.68 723.44 517.43 722.48 520.45 721.81C523.47 721.14 527.26 720.34 530.47 719.81C533.68 719.27 537.28 718.68 540.49 718.47C543.69 718.26 547.3 718.55 550.5 718.47C553.71 718.39 557.32 718.18 560.52 717.97C563.73 717.75 567.33 717.11 570.54 717.13C573.74 717.16 577.54 717.79 580.56 718.14C583.58 718.48 586.39 718.9 589.41 719.3C592.42 719.71 596.22 720.29 599.42 720.64C602.63 720.99 606.23 721.1 609.44 721.47C612.65 721.85 616.25 722.58 619.46 722.98C622.66 723.38 624.69 723.94 629.47 723.98C634.26 724.02 644.71 723.15 649.36 723.21C654.01 723.28 655.47 724.28 658.54 724.38C661.61 724.49 665.35 724.02 668.56 723.88C671.76 723.75 675.37 723.65 678.57 723.55C681.78 723.44 685.39 723.35 688.59 723.21C691.8 723.08 695.46 722.85 698.61 722.71C701.76 722.58 705.27 722.43 708.29 722.38C711.31 722.33 714.43 722.38 717.47 722.38C720.52 722.38 724.12 722.59 727.33 722.38C730.53 722.17 734.28 721.52 737.51 721.04C740.74 720.56 744.35 719.91 747.53 719.37C750.71 718.84 754.2 718.37 757.38 717.7C760.56 717.04 764.16 716.27 767.39 715.2C770.63 714.13 774.48 712.36 777.58 711.03C780.68 709.69 783.72 708.19 786.76 706.85C789.81 705.52 793.49 703.88 796.61 702.68C799.74 701.48 803.14 700.54 806.3 699.34C809.45 698.14 813.11 696.36 816.31 695.17C819.52 693.97 823.14 693.07 826.34 691.88C829.55 690.68 833.16 689.09 836.36 687.7C839.57 686.32 843.33 684.67 846.38 683.2C849.42 681.73 852.35 679.8 855.39 678.52C858.44 677.24 862.21 676.25 865.41 675.18C868.62 674.11 872.22 672.83 875.43 671.84C878.64 670.86 882.24 669.81 885.45 669.01C888.65 668.2 892.26 667.45 895.46 666.83C898.67 666.22 902.33 665.7 905.48 665.17C908.63 664.63 912.09 664.08 915.17 663.5C918.24 662.91 921.56 662.03 924.68 661.49C927.81 660.96 931.55 660.64 934.7 660.16C937.85 659.68 941.23 659.15 944.38 658.49C947.53 657.82 951.21 656.83 954.4 655.98C957.59 655.13 961.15 653.77 964.34 653.16C967.54 652.55 971.32 652.43 974.36 652.16C977.41 651.89 980.33 651.76 983.38 651.49C986.42 651.23 990.19 650.57 993.39 650.49C996.6 650.41 1000.21 650.83 1003.41 650.99C1006.62 651.15 1010.22 651.23 1013.43 651.49C1016.64 651.76 1020.21 652.39 1023.45 652.66C1026.68 652.93 1030.43 653.11 1033.63 653.16C1036.84 653.22 1040.44 653.07 1043.48 652.99C1046.53 652.91 1049.59 653.17 1052.66 652.66C1055.74 652.15 1059.53 650.76 1062.68 649.82C1065.83 648.89 1069.21 647.7 1072.37 646.82C1075.52 645.94 1080.78 644.71 1082.38 644.31"/>
<path fill="none" stroke="#45dcec" stroke-width="0.95" stroke-linejoin="round" stroke-linecap="round" d="M126.57 707.28C128.18 706.27 133.39 702.94 136.59 700.94C139.8 698.94 143.46 696.55 146.61 694.76C149.76 692.97 153.09 690.9 156.29 689.75C159.5 688.6 163.44 687.72 166.64 687.58C169.85 687.45 173.17 687.05 176.33 688.92C179.48 690.79 183.27 697.61 186.34 699.27C189.42 700.93 192.48 699.4 195.53 699.27C198.57 699.14 202.2 696.7 205.38 698.43C208.56 700.17 212.16 706.52 215.39 710.12C218.63 713.73 222.37 718.44 225.58 720.97C228.78 723.51 232.25 724.25 235.43 725.98C238.61 727.72 242.43 729.74 245.45 731.83C248.47 733.91 251.28 738.34 254.3 739.01C257.31 739.67 261.05 737.1 264.31 736C267.57 734.9 271.47 733.36 274.68 732.16C277.89 730.96 281.21 728.75 284.36 728.49C287.51 728.22 291.17 729.88 294.38 730.49C297.58 731.1 301.19 731.98 304.4 732.33C307.6 732.67 311.34 731.67 314.41 732.66C317.49 733.65 320.55 736.77 323.6 738.5C326.64 740.24 330.27 742.26 333.45 743.51C336.63 744.77 340.26 746.14 343.46 746.35C346.67 746.57 350.28 744.1 353.48 744.85C356.69 745.6 360.29 750.38 363.5 751.03C366.7 751.67 370.31 749.66 373.52 748.86C376.72 748.05 380.46 747.54 383.53 746.02C386.61 744.49 389.7 741.34 392.72 739.34C395.74 737.34 399.25 736.83 402.4 733.5C405.55 730.16 409.21 722.48 412.42 718.47C415.62 714.46 419.23 711.12 422.43 708.45C425.64 705.78 429.25 703.38 432.45 701.77C435.66 700.17 439.26 698.57 442.47 698.43C445.68 698.3 449.44 699.07 452.49 700.94C455.53 702.81 458.47 707.98 461.52 710.12C464.56 712.26 468.33 713.23 471.53 714.3C474.74 715.36 478.35 715.87 481.55 716.8C484.76 717.73 488.42 719.66 491.57 720.14C494.72 720.62 498.05 719.94 501.25 719.81C504.46 719.67 508.53 719.92 511.6 719.3C514.68 718.69 517.43 717.11 520.45 715.97C523.47 714.82 527.26 712.13 530.47 712.13C533.68 712.13 537.28 714.55 540.49 715.97C543.69 717.38 547.3 719.24 550.5 720.97C553.71 722.71 557.32 724.95 560.52 726.82C563.73 728.69 567.33 730.52 570.54 732.66C573.74 734.8 577.54 738.65 580.56 740.17C583.58 741.7 586.39 742.18 589.41 742.18C592.42 742.18 596.22 741.43 599.42 740.17C602.63 738.92 606.23 736.07 609.44 734.33C612.65 732.59 616.25 730.92 619.46 729.32C622.66 727.72 624.69 726.57 629.47 724.31C634.26 722.05 644.71 716.39 649.36 715.2C654.01 714.01 655.47 716.47 658.54 716.87C661.61 717.27 665.35 717.7 668.56 717.7C671.76 717.7 675.37 717.27 678.57 716.87C681.78 716.47 685.39 715.87 688.59 715.2C691.8 714.53 695.46 713.5 698.61 712.7C701.76 711.89 705.27 710.73 708.29 710.19C711.31 709.66 714.43 709.49 717.47 709.36C720.52 709.22 724.12 709.22 727.33 709.36C730.53 709.49 734.28 710.19 737.51 710.19C740.74 710.19 744.35 709.89 747.53 709.36C750.71 708.82 754.2 707.92 757.38 706.85C760.56 705.78 764.16 704.55 767.39 702.68C770.63 700.81 774.48 697.84 777.58 695.17C780.68 692.49 783.72 689.05 786.76 685.98C789.81 682.91 793.49 679.04 796.61 675.97C799.74 672.89 803.14 669.85 806.3 666.78C809.45 663.71 813.11 659.7 816.31 656.77C819.52 653.84 823.14 651.53 826.34 648.47C829.55 645.41 833.16 640.07 836.36 637.62C839.57 635.16 843.33 634.85 846.38 633.11C849.42 631.37 852.35 626.58 855.39 626.77C858.44 626.95 862.21 632.14 865.41 634.28C868.62 636.42 872.22 638.12 875.43 640.12C878.64 642.13 882.24 644.66 885.45 646.8C888.65 648.94 892.26 651.13 895.46 653.48C898.67 655.83 902.33 660.16 905.48 661.49C908.63 662.83 912.09 661.24 915.17 661.83C918.24 662.41 921.56 663.83 924.68 665.17C927.81 666.5 931.55 669.11 934.7 670.17C937.85 671.24 941.23 671.98 944.38 671.84C947.53 671.71 951.21 670.81 954.4 669.34C957.59 667.87 961.15 664.81 964.34 662.68C967.54 660.54 971.32 657.74 974.36 656C977.41 654.26 980.33 652.95 983.38 651.83C986.42 650.7 990.19 649.66 993.39 648.99C996.6 648.32 1000.21 647.87 1003.41 647.65C1006.62 647.44 1010.22 647.79 1013.43 647.65C1016.64 647.52 1020.21 647.22 1023.45 646.82C1026.68 646.42 1030.43 646.48 1033.63 645.15C1036.84 643.81 1040.44 640.21 1043.48 638.47C1046.53 636.73 1049.59 636.17 1052.66 634.3C1055.74 632.43 1059.53 628.92 1062.68 626.78C1065.83 624.65 1069.21 623.66 1072.37 620.94C1075.52 618.21 1080.78 611.54 1082.38 609.75"/>
</g>
<path stroke="#000" stroke-width="1" fill="none" d="M87.5 552.5H1106.5V911.5H87.5ZM87.5 791.5H1106.5"/>
<rect x="87" y="552" width="1" height="360" fill="#20207e"/>
<rect x="1107" y="566" width="5" height="1" fill="#7a7a7a"/>
<text x="1114.6" y="569.6" font-size="11.4" fill="#111" textLength="22.2" lengthAdjust="spacingAndGlyphs">759</text>
<rect x="1107" y="589" width="5" height="1" fill="#7a7a7a"/>
<text x="1114.6" y="592.6" font-size="11.4" fill="#111" textLength="22.2" lengthAdjust="spacingAndGlyphs">690</text>
<rect x="1107" y="612" width="5" height="1" fill="#7a7a7a"/>
<text x="1114.6" y="615.6" font-size="11.4" fill="#111" textLength="22.2" lengthAdjust="spacingAndGlyphs">621</text>
<rect x="1107" y="635" width="5" height="1" fill="#7a7a7a"/>
<text x="1114.6" y="638.6" font-size="11.4" fill="#111" textLength="22.2" lengthAdjust="spacingAndGlyphs">552</text>
<rect x="1107" y="658" width="5" height="1" fill="#7a7a7a"/>
<text x="1114.6" y="661.6" font-size="11.4" fill="#111" textLength="22.2" lengthAdjust="spacingAndGlyphs">483</text>
<rect x="1107" y="682" width="5" height="1" fill="#7a7a7a"/>
<text x="1114.6" y="685.6" font-size="11.4" fill="#111" textLength="22.2" lengthAdjust="spacingAndGlyphs">414</text>
<rect x="1107" y="705" width="5" height="1" fill="#7a7a7a"/>
<text x="1114.6" y="708.6" font-size="11.4" fill="#111" textLength="22.2" lengthAdjust="spacingAndGlyphs">345</text>
<rect x="1107" y="728" width="5" height="1" fill="#7a7a7a"/>
<text x="1114.6" y="731.6" font-size="11.4" fill="#111" textLength="22.2" lengthAdjust="spacingAndGlyphs">276</text>
<rect x="1107" y="751" width="5" height="1" fill="#7a7a7a"/>
<text x="1114.6" y="754.6" font-size="11.4" fill="#111" textLength="22.2" lengthAdjust="spacingAndGlyphs">207</text>
<rect x="1107" y="774" width="5" height="1" fill="#7a7a7a"/>
<text x="1114.6" y="777.6" font-size="11.4" fill="#111" textLength="22.2" lengthAdjust="spacingAndGlyphs">138</text>
<rect x="87" y="912" width="1" height="4" fill="#7a7a7a"/>
<text x="74.15" y="927.8" font-size="10.4" fill="#111" textLength="24.2" lengthAdjust="spacingAndGlyphs">9/30</text>
<text x="74.15" y="942" font-size="10.4" fill="#111" textLength="26.7" lengthAdjust="spacingAndGlyphs">2011</text>
<rect x="126" y="912" width="1" height="4" fill="#7a7a7a"/>
<text x="113.15" y="927.8" font-size="10.4" fill="#111" textLength="24.2" lengthAdjust="spacingAndGlyphs">1/31</text>
<text x="113.15" y="942" font-size="10.4" fill="#111" textLength="26.7" lengthAdjust="spacingAndGlyphs">2012</text>
<rect x="186" y="912" width="1" height="4" fill="#7a7a7a"/>
<text x="174.4" y="927.8" font-size="10.4" fill="#111" textLength="24.2" lengthAdjust="spacingAndGlyphs">7/31</text>
<rect x="245" y="912" width="1" height="4" fill="#7a7a7a"/>
<text x="232.15" y="927.8" font-size="10.4" fill="#111" textLength="24.2" lengthAdjust="spacingAndGlyphs">1/31</text>
<text x="232.15" y="942" font-size="10.4" fill="#111" textLength="26.7" lengthAdjust="spacingAndGlyphs">2013</text>
<rect x="304" y="912" width="1" height="4" fill="#7a7a7a"/>
<text x="292.4" y="927.8" font-size="10.4" fill="#111" textLength="24.2" lengthAdjust="spacingAndGlyphs">7/31</text>
<rect x="363" y="912" width="1" height="4" fill="#7a7a7a"/>
<text x="350.15" y="927.8" font-size="10.4" fill="#111" textLength="24.2" lengthAdjust="spacingAndGlyphs">1/31</text>
<text x="350.15" y="942" font-size="10.4" fill="#111" textLength="26.7" lengthAdjust="spacingAndGlyphs">2014</text>
<rect x="422" y="912" width="1" height="4" fill="#7a7a7a"/>
<text x="410.4" y="927.8" font-size="10.4" fill="#111" textLength="24.2" lengthAdjust="spacingAndGlyphs">7/31</text>
<rect x="481" y="912" width="1" height="4" fill="#7a7a7a"/>
<text x="468.15" y="927.8" font-size="10.4" fill="#111" textLength="24.2" lengthAdjust="spacingAndGlyphs">1/31</text>
<text x="468.15" y="942" font-size="10.4" fill="#111" textLength="26.7" lengthAdjust="spacingAndGlyphs">2015</text>
<rect x="540" y="912" width="1" height="4" fill="#7a7a7a"/>
<text x="528.4" y="927.8" font-size="10.4" fill="#111" textLength="24.2" lengthAdjust="spacingAndGlyphs">7/31</text>
<rect x="599" y="912" width="1" height="4" fill="#7a7a7a"/>
<text x="586.15" y="927.8" font-size="10.4" fill="#111" textLength="24.2" lengthAdjust="spacingAndGlyphs">1/31</text>
<text x="586.15" y="942" font-size="10.4" fill="#111" textLength="26.7" lengthAdjust="spacingAndGlyphs">2016</text>
<rect x="659" y="912" width="1" height="4" fill="#7a7a7a"/>
<text x="647.4" y="927.8" font-size="10.4" fill="#111" textLength="24.2" lengthAdjust="spacingAndGlyphs">7/31</text>
<rect x="718" y="912" width="1" height="4" fill="#7a7a7a"/>
<text x="705.15" y="927.8" font-size="10.4" fill="#111" textLength="24.2" lengthAdjust="spacingAndGlyphs">1/31</text>
<text x="705.15" y="942" font-size="10.4" fill="#111" textLength="26.7" lengthAdjust="spacingAndGlyphs">2017</text>
<rect x="777" y="912" width="1" height="4" fill="#7a7a7a"/>
<text x="765.4" y="927.8" font-size="10.4" fill="#111" textLength="24.2" lengthAdjust="spacingAndGlyphs">7/31</text>
<rect x="836" y="912" width="1" height="4" fill="#7a7a7a"/>
<text x="823.15" y="927.8" font-size="10.4" fill="#111" textLength="24.2" lengthAdjust="spacingAndGlyphs">1/31</text>
<text x="823.15" y="942" font-size="10.4" fill="#111" textLength="26.7" lengthAdjust="spacingAndGlyphs">2018</text>
<rect x="895" y="912" width="1" height="4" fill="#7a7a7a"/>
<text x="883.4" y="927.8" font-size="10.4" fill="#111" textLength="24.2" lengthAdjust="spacingAndGlyphs">7/31</text>
<rect x="954" y="912" width="1" height="4" fill="#7a7a7a"/>
<text x="941.15" y="927.8" font-size="10.4" fill="#111" textLength="24.2" lengthAdjust="spacingAndGlyphs">1/31</text>
<text x="941.15" y="942" font-size="10.4" fill="#111" textLength="26.7" lengthAdjust="spacingAndGlyphs">2019</text>
<rect x="1013" y="912" width="1" height="4" fill="#7a7a7a"/>
<text x="1001.4" y="927.8" font-size="10.4" fill="#111" textLength="24.2" lengthAdjust="spacingAndGlyphs">7/31</text>
<text x="1058.7" y="942" font-size="10.4" fill="#111" textLength="26.7" lengthAdjust="spacingAndGlyphs">2020</text>
<text x="91.4" y="565.9" font-size="12" fill="#000">開</text>
<text x="106.9" y="565.9" font-size="12.5" fill="#000" textLength="18.6" lengthAdjust="spacingAndGlyphs">623</text>
<text x="132.8" y="565.9" font-size="12" fill="#000">高</text>
<text x="149" y="565.9" font-size="12.5" fill="#000" textLength="18.6" lengthAdjust="spacingAndGlyphs">715</text>
<text x="175.2" y="565.9" font-size="12" fill="#000">低</text>
<text x="190.7" y="565.9" font-size="12.5" fill="#000" textLength="18.8" lengthAdjust="spacingAndGlyphs">604</text>
<text x="217" y="565.9" font-size="12" fill="#000">收</text>
<text x="233.2" y="565.9" font-size="12.5" fill="#000" textLength="18.6" lengthAdjust="spacingAndGlyphs">710</text>
<text x="273" y="565.9" font-size="12.5" fill="#4fdbe9" textLength="50.1" lengthAdjust="spacingAndGlyphs">5MA 630</text>
<text x="339.7" y="565.9" font-size="12.5" fill="#f0a94a" textLength="73.4" lengthAdjust="spacingAndGlyphs">20MA 526.75</text>
<text x="431.2" y="565.9" font-size="12.5" fill="#2222a8" textLength="74.2" lengthAdjust="spacingAndGlyphs">60MA 422.78</text>
<text x="91.4" y="806.2" font-size="12" fill="#333" textLength="36.4" lengthAdjust="spacingAndGlyphs">成交量</text>
<text x="132.3" y="806.2" font-size="12.5" fill="#333" textLength="32.4" lengthAdjust="spacingAndGlyphs">10100</text>
<rect x="1042.5" y="912.5" width="79" height="16" fill="#ffffc3" stroke="#dcdca0" stroke-width="1"/>
<text x="1059.8" y="923.8" font-size="10.4" fill="#a9a99a" textLength="45.6" lengthAdjust="spacingAndGlyphs">2020/02</text>
<text x="462.8" y="91.4" font-size="12.4" fill="#404040" textLength="37.6" lengthAdjust="spacingAndGlyphs">成交量</text>
<text x="546" y="91.2" font-size="12" fill="#404040" textLength="25" lengthAdjust="spacingAndGlyphs">5MA</text>
<text x="627.4" y="91.2" font-size="12" fill="#404040" textLength="33.6" lengthAdjust="spacingAndGlyphs">20MA</text>
<text x="709.7" y="91.2" font-size="12" fill="#404040" textLength="33.6" lengthAdjust="spacingAndGlyphs">60MA</text>
<rect x="445.5" y="80.5" width="9" height="12" fill="#7f7f7f"/>
<rect x="526" y="86" width="12.5" height="1.3" fill="#45dcec"/>
<rect x="608" y="86" width="12.5" height="1.3" fill="#f2a633"/>
<rect x="690" y="86" width="12.5" height="1.3" fill="#1a1aa0"/>
<rect x="429.5" y="81.5" width="11" height="11" fill="#fff" stroke="#a4a4a4" stroke-width="1"/>
<path fill="none" stroke="#000" stroke-width="2.1" d="M432.1 87.2l2.3 2.7l4.3 -5.5"/>
<rect x="511.5" y="81.5" width="11" height="11" fill="#fff" stroke="#a4a4a4" stroke-width="1"/>
<path fill="none" stroke="#000" stroke-width="2.1" d="M514.1 87.2l2.3 2.7l4.3 -5.5"/>
<rect x="593.5" y="81.5" width="11" height="11" fill="#fff" stroke="#a4a4a4" stroke-width="1"/>
<path fill="none" stroke="#000" stroke-width="2.1" d="M596.1 87.2l2.3 2.7l4.3 -5.5"/>
<rect x="675.5" y="81.5" width="11" height="11" fill="#fff" stroke="#a4a4a4" stroke-width="1"/>
<path fill="none" stroke="#000" stroke-width="2.1" d="M678.1 87.2l2.3 2.7l4.3 -5.5"/>
<text x="465.8" y="546.4" font-size="12.4" fill="#404040" textLength="37.6" lengthAdjust="spacingAndGlyphs">成交量</text>
<text x="549" y="546.2" font-size="12" fill="#404040" textLength="25" lengthAdjust="spacingAndGlyphs">5MA</text>
<text x="630.4" y="546.2" font-size="12" fill="#404040" textLength="33.6" lengthAdjust="spacingAndGlyphs">20MA</text>
<text x="712.7" y="546.2" font-size="12" fill="#404040" textLength="33.6" lengthAdjust="spacingAndGlyphs">60MA</text>
<rect x="448.5" y="535.5" width="9" height="12" fill="#7f7f7f"/>
<rect x="529" y="541" width="12.5" height="1.3" fill="#45dcec"/>
<rect x="611" y="541" width="12.5" height="1.3" fill="#f2a633"/>
<rect x="693" y="541" width="12.5" height="1.3" fill="#1a1aa0"/>
<rect x="432.5" y="536.5" width="11" height="11" fill="#fff" stroke="#a4a4a4" stroke-width="1"/>
<path fill="none" stroke="#000" stroke-width="2.1" d="M435.1 542.2l2.3 2.7l4.3 -5.5"/>
<rect x="514.5" y="536.5" width="11" height="11" fill="#fff" stroke="#a4a4a4" stroke-width="1"/>
<path fill="none" stroke="#000" stroke-width="2.1" d="M517.1 542.2l2.3 2.7l4.3 -5.5"/>
<rect x="596.5" y="536.5" width="11" height="11" fill="#fff" stroke="#a4a4a4" stroke-width="1"/>
<path fill="none" stroke="#000" stroke-width="2.1" d="M599.1 542.2l2.3 2.7l4.3 -5.5"/>
<rect x="678.5" y="536.5" width="11" height="11" fill="#fff" stroke="#a4a4a4" stroke-width="1"/>
<path fill="none" stroke="#000" stroke-width="2.1" d="M681.1 542.2l2.3 2.7l4.3 -5.5"/>
<text x="12.1" y="24.4" font-size="15" fill="#000" textLength="34.8" lengthAdjust="spacingAndGlyphs" stroke="#000" stroke-width="0.22">4966</text>
<text x="52.6" y="24" font-size="13.8" fill="#000" textLength="27.6" lengthAdjust="spacingAndGlyphs" stroke="#000" stroke-width="0.15">譜瑞</text>
<text x="82.6" y="24.4" font-size="15" fill="#000" textLength="25.2" lengthAdjust="spacingAndGlyphs" stroke="#000" stroke-width="0.22">-KY</text>
<text x="216" y="23" font-size="11.9" fill="#000" textLength="285.2" lengthAdjust="spacingAndGlyphs" stroke="#000" stroke-width="0.12">高速訊號傳輸介面及顯示與觸控晶片之研發設計及銷售</text>
<text x="17.2" y="58.2" font-size="12.6" fill="#000" textLength="6.8" lengthAdjust="spacingAndGlyphs">K</text>
<text x="24.2" y="58.4" font-size="11.3" fill="#000" textLength="22.4" lengthAdjust="spacingAndGlyphs">線圖</text>
<text x="65.9" y="59" font-size="11.6" fill="#000" textLength="58.4" lengthAdjust="spacingAndGlyphs">大盤比較圖</text>
</svg>
</body></html>
